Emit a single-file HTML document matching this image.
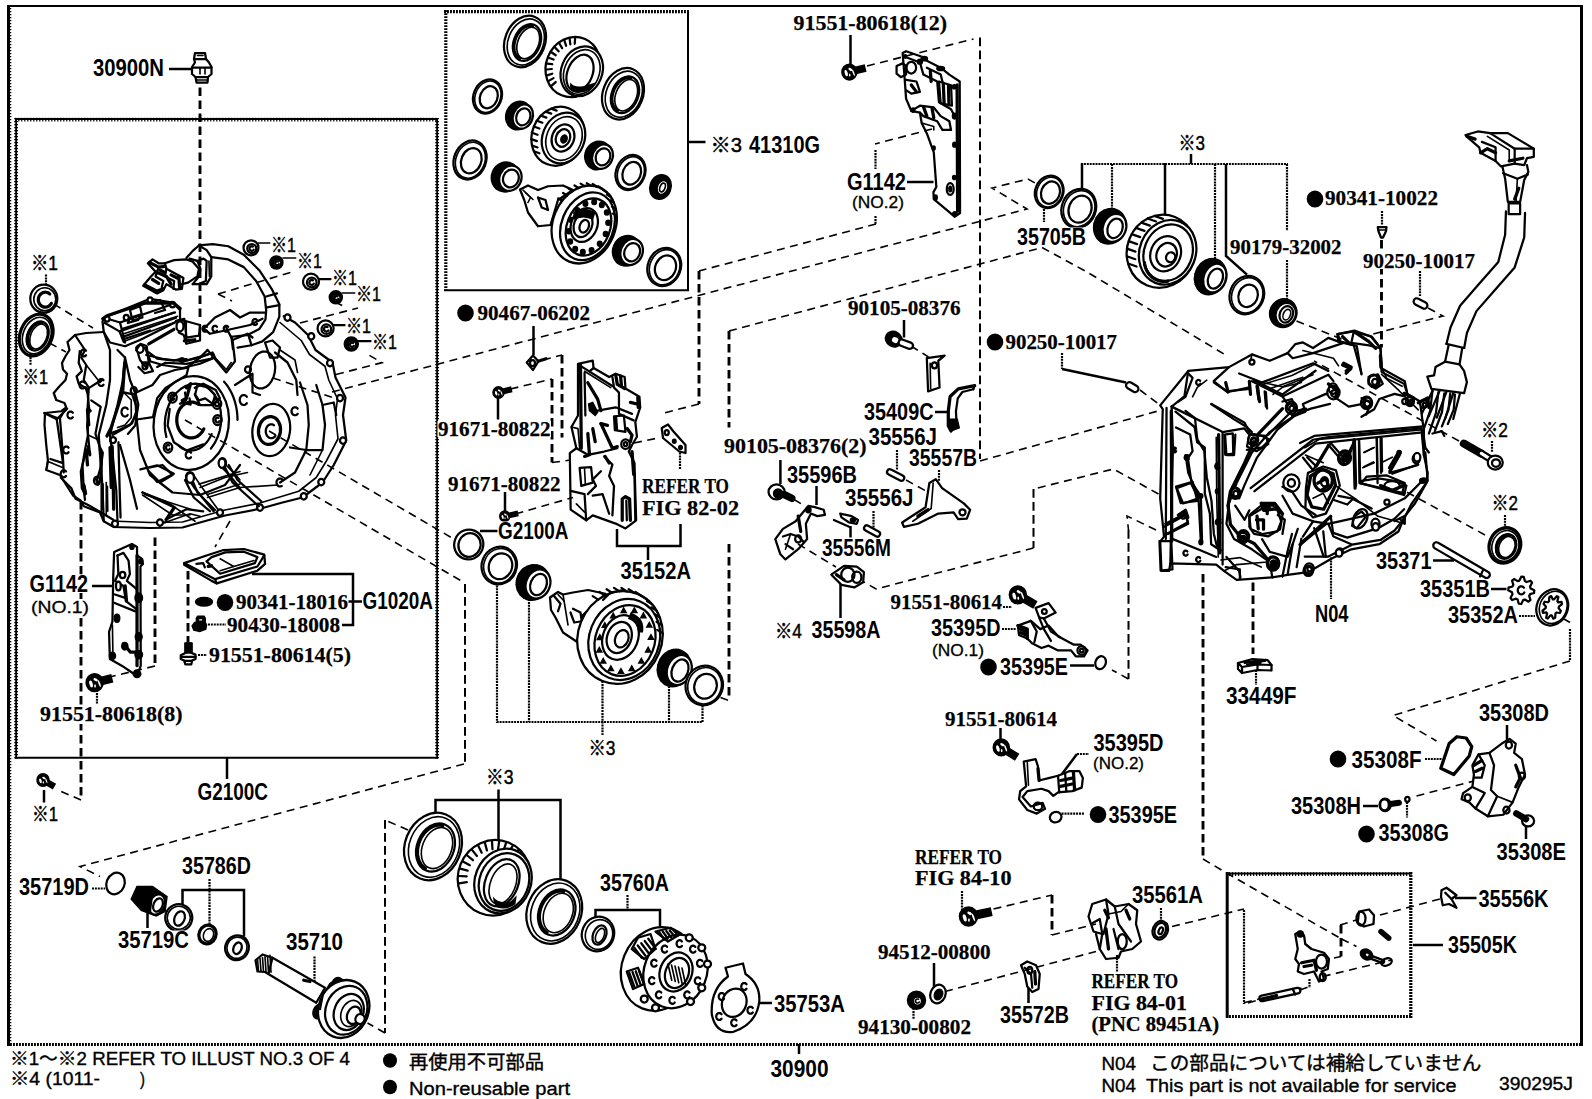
<!DOCTYPE html>
<html lang="ja"><head><meta charset="utf-8"><title>30900 Transaxle Assy</title>
<style>
html,body{margin:0;padding:0;background:#fff;}
body{width:1592px;height:1099px;overflow:hidden;}
svg{display:block;}
.l{fill:none;stroke:#000;stroke-width:9;stroke-linejoin:round;stroke-linecap:round;}
.t{fill:none;stroke:#000;stroke-width:6.5;stroke-linejoin:round;stroke-linecap:round;}
.k{fill:none;stroke:#000;stroke-width:13;stroke-linejoin:round;stroke-linecap:round;}
.d{fill:none;stroke:#000;stroke-width:8;stroke-dasharray:30 18;}
.dd{fill:none;stroke:#000;stroke-width:6;stroke-dasharray:24 14;}
.f{fill:#000;stroke:none;}
.wf{fill:#fff;stroke:none;}
.fk{fill:#000;stroke:#000;stroke-width:6;}
.w{fill:#fff;stroke:#000;stroke-width:9;stroke-linejoin:round;}
.pn{font-family:"Liberation Sans",sans-serif;font-weight:bold;font-size:24.5px;fill:#000;}
.no{font-family:"Liberation Serif",serif;font-weight:bold;font-size:21.5px;fill:#000;stroke:#000;stroke-width:.25px;}
.rf{font-family:"Liberation Serif",serif;font-weight:bold;font-size:20px;fill:#000;stroke:#000;stroke-width:.25px;}
.sm{font-family:"Liberation Sans",sans-serif;font-size:16px;fill:#000;stroke:#000;stroke-width:.3px;}
.st{font-family:"Liberation Sans","Noto Sans CJK JP",sans-serif;font-size:21px;fill:#000;stroke:#000;stroke-width:.45px;}
.ft{font-family:"Liberation Sans","Noto Sans CJK JP",sans-serif;font-size:18px;fill:#000;stroke:#000;stroke-width:.35px;}
.ftj{font-family:"Liberation Sans","Noto Sans CJK JP",sans-serif;font-size:19px;fill:#000;stroke:#000;stroke-width:.4px;}
.fr{fill:none;stroke:#000;stroke-width:2.2;}
.frd{fill:none;stroke:#000;stroke-width:1.4;stroke-dasharray:1 1;}
.bx{fill:none;stroke:#000;stroke-width:1.8;}
.b2{fill:none;stroke:#000;stroke-width:2;}
.b18{fill:none;stroke:#000;stroke-width:1.8;}
.b3{fill:none;stroke:#000;stroke-width:3;}
.bd3{fill:none;stroke:#000;stroke-width:3.2;stroke-dasharray:1.9 1.1;}
.bt{fill:none;stroke:#000;stroke-width:3.8;stroke-dasharray:1.2 1.8;}
.gs{fill:none;stroke:#000;stroke-width:2.5;}
.gt{fill:none;stroke:#000;stroke-width:2.2;stroke-dasharray:2 0.9;}
.gd{fill:none;stroke:#000;stroke-width:1.6;stroke-dasharray:8 5.5;}
.gv{fill:none;stroke:#000;stroke-width:2;stroke-dasharray:8.7 4.3;}
.gD{fill:none;stroke:#000;stroke-width:2.9;stroke-dasharray:8.5 4.5;}
</style></head><body>
<svg width="1592" height="1099" viewBox="0 0 1592 1099">
<rect x="0" y="0" width="1592" height="1099" fill="#fff"/>
<!-- 00_frame.svg -->
<g id="frame">
<path class="b2" d="M7.0 6.0 H1583.0"/>
<path class="bt" d="M9.4 5.0 V1046.0"/>
<path class="b3" d="M8.5 5.0 V1046.0"/>
<path class="b3" d="M1581.5 5.0 V1046.0"/>
<path class="bd3" d="M7.0 1044.5 H1583.0"/>
<path class="bt" d="M15.2 119.6 H438.0"/>
<path class="b2" d="M15.2 119.0 H438.0"/>
<path class="bt" d="M16.1 118.0 V758.8"/>
<path class="b18" d="M16.1 118.0 V758.8"/>
<path class="bt" d="M437.1 118.0 V758.8"/>
<path class="b18" d="M437.1 118.0 V758.8"/>
<path class="b2" d="M15.2 757.8 H438.0"/>
<path class="bd3" d="M444.0 11.7 H689.0"/>
<path class="bd3" d="M445.8 10.2 V291.0"/>
<path class="b2" d="M688.0 10.2 V291.0"/>
<path class="b2" d="M444.0 290.2 H689.0"/>
<path class="b3" d="M1227.2 872.0 V1018.0"/>
<path class="bt" d="M1226.0 874.2 H1412.0"/>
<path class="b2" d="M1226.0 873.6 H1412.0"/>
<path class="bd3" d="M1410.8 872.0 V1018.0"/>
<path class="bd3" d="M1226.0 1016.5 H1412.0"/>
<path class="gs" d="M169.0 69.0 L192.0 69.0"/>
<path class="gs" d="M688.0 142.0 L705.5 142.0"/>
<path class="gs" d="M850.5 35.0 L850.5 64.0"/>
<path class="gs" d="M907.0 182.0 L933.5 182.0"/>
<path class="gs" d="M533.5 326.0 L533.5 355.0"/>
<path class="gs" d="M498.0 395.0 L498.0 419.5"/>
<path class="gs" d="M505.0 492.0 L505.0 512.5"/>
<path class="gs" d="M480.0 531.0 L498.0 531.0"/>
<path class="gs" d="M617.0 529.0 L617.0 546.0 L680.5 546.0 L680.5 524.0"/>
<path class="gs" d="M648.0 546.0 L648.0 560.0"/>
<path class="gs" d="M904.0 320.0 L904.0 337.5"/>
<path class="gs" d="M935.0 412.0 L948.0 412.0"/>
<path class="gs" d="M816.5 486.0 L816.5 505.0"/>
<path class="gs" d="M850.5 526.0 L850.5 537.5"/>
<path class="gs" d="M92.0 586.0 L113.0 586.0"/>
<path class="gs" d="M252.0 574.0 L353.0 574.0 L353.0 625.0 L342.0 625.0"/>
<path class="gs" d="M348.0 601.5 L362.0 601.5"/>
<path class="gs" d="M227.0 757.5 L227.0 779.0"/>
<path class="gs" d="M44.0 790.0 L44.0 802.5"/>
<path class="gs" d="M435.5 816.0 L435.5 800.0 L560.5 800.0 L560.5 879.0"/>
<path class="gs" d="M498.5 789.5 L498.5 841.0"/>
<path class="gs" d="M1070.0 665.5 L1094.0 665.5"/>
<path class="gs" d="M1000.5 728.0 L1000.5 740.0"/>
<path class="gs" d="M840.5 584.0 L840.5 618.0"/>
<path class="gs" d="M780.4 460.0 L780.4 484.0"/>
<path class="gs" d="M1433.0 560.5 L1454.0 560.5"/>
<path class="gs" d="M1491.0 589.0 L1506.5 589.0"/>
<path class="gs" d="M1507.0 725.0 L1507.0 741.0"/>
<path class="gs" d="M1363.0 806.0 L1378.0 806.0"/>
<path class="gs" d="M1526.0 826.5 L1526.0 839.0"/>
<path class="gs" d="M1413.0 945.0 L1443.0 945.0"/>
<path class="gs" d="M1455.0 898.0 L1476.5 898.0"/>
<path class="gs" d="M182.5 905.0 L182.5 890.0 L244.0 890.0 L244.0 936.5"/>
<path class="gs" d="M147.5 909.0 L147.5 928.0"/>
<path class="gs" d="M595.5 918.0 L595.5 910.0 L660.0 910.0 L660.0 926.5"/>
<path class="gs" d="M759.0 1003.0 L772.0 1003.0"/>
<path class="gs" d="M799.0 1044.0 L799.0 1054.0"/>
<path class="gs" d="M934.0 963.0 L934.0 986.5"/>
<path class="gs" d="M1028.5 988.0 L1028.5 1003.0"/>
<path class="gs" d="M1191.0 154.0 L1191.0 164.0"/>
<path class="gs" d="M1226.0 164.0 L1226.0 256.0 L1247.0 274.6"/>
<path class="gs" d="M1082.0 163.0 L1082.0 190.0"/>
<path class="gs" d="M1165.0 163.0 L1165.0 215.0"/>
<path class="gs" d="M1062.0 369.0 L1126.0 382.5"/>
<path class="gs" d="M1077.0 754.0 L1061.6 774.5"/>
<path class="gt" d="M1044.0 209.0 L1044.0 222.0"/>
<path class="gt" d="M1081.0 164.0 L1288.0 164.0"/>
<path class="gt" d="M1112.0 164.0 L1112.0 209.0"/>
<path class="gt" d="M1215.0 164.0 L1215.0 262.0"/>
<path class="gt" d="M1287.0 164.0 L1287.0 231.0"/>
<path class="gt" d="M1287.0 260.0 L1287.0 299.0"/>
<path class="gt" d="M1382.0 211.0 L1382.0 225.0"/>
<path class="gt" d="M1420.0 271.0 L1420.0 296.0"/>
<path class="gt" d="M1062.0 353.0 L1062.0 369.0"/>
<path class="gt" d="M875.5 150.0 L875.5 169.0"/>
<path class="gt" d="M875.5 216.0 L875.5 224.0"/>
<path class="gt" d="M680.0 452.5 L680.0 469.0"/>
<path class="gt" d="M939.0 470.0 L939.0 481.0"/>
<path class="gt" d="M897.0 450.0 L897.0 470.0"/>
<path class="gt" d="M873.5 511.0 L873.5 527.5"/>
<path class="gt" d="M97.0 690.0 L97.0 704.0"/>
<path class="gt" d="M208.0 624.5 L226.0 624.5"/>
<path class="gt" d="M198.0 655.0 L207.0 655.0"/>
<path class="gt" d="M497.0 582.5 L497.0 722.0 L702.5 722.0 L702.5 705.0"/>
<path class="gt" d="M529.0 599.0 L529.0 722.0"/>
<path class="gt" d="M602.5 681.0 L602.5 735.0"/>
<path class="gt" d="M669.0 686.0 L669.0 722.0"/>
<path class="gt" d="M1331.0 557.5 L1331.0 599.0"/>
<path class="gt" d="M1256.0 670.0 L1256.0 685.0"/>
<path class="gt" d="M1519.0 616.0 L1535.0 616.0"/>
<path class="gt" d="M1425.0 759.0 L1441.5 759.0"/>
<path class="gt" d="M1407.0 802.0 L1407.0 817.5"/>
<path class="gt" d="M92.0 888.5 L105.0 888.5"/>
<path class="gt" d="M209.5 879.0 L209.5 925.0"/>
<path class="gt" d="M314.5 956.5 L314.5 984.0"/>
<path class="gt" d="M627.5 895.0 L627.5 910.0"/>
<path class="gt" d="M962.0 891.0 L962.0 910.0"/>
<path class="gt" d="M913.5 1008.0 L913.5 1019.0"/>
<path class="gt" d="M1161.0 908.0 L1161.0 921.5"/>
<path class="gt" d="M1117.0 955.0 L1117.0 971.5"/>
<path class="gt" d="M1244.0 910.0 L1244.0 1004.0"/>
<path class="gt" d="M1309.5 979.0 L1309.5 988.0"/>
<path class="gt" d="M46.0 274.5 L46.0 286.0"/>
<path class="gt" d="M30.5 354.0 L30.5 365.0"/>
<path class="gt" d="M1505.0 515.0 L1505.0 527.5"/>
<path class="gt" d="M1492.0 441.0 L1492.0 452.0"/>
<path class="gt" d="M1003.0 607.0 L1012.0 607.0"/>
<path class="gt" d="M1002.0 629.0 L1016.0 629.0"/>
<path class="gt" d="M1077.0 754.0 L1089.0 754.0"/>
<path class="gt" d="M1061.6 813.6 L1084.0 813.6"/>
<path class="gt" d="M1570.0 629.0 L1570.0 661.0"/>
<path class="gd" d="M332.0 392.0 L1027.0 209.0 L992.0 188.0 L1028.0 179.0 L1035.0 183.0"/>
<path class="gd" d="M269.0 431.0 L455.5 540.0"/>
<path class="gd" d="M185.0 420.0 L464.0 582.5"/>
<path class="gv" d="M465.0 584.0 L465.0 764.0"/>
<path class="gd" d="M464.0 764.0 L80.0 866.5 L100.0 876.5"/>
<path class="gd" d="M720.5 697.5 L730.5 701.0"/>
<path class="gd" d="M729.0 331.0 L1042.0 247.5 L1087.0 272.0 L1224.0 354.0"/>
<path class="gd" d="M932.0 129.0 L875.0 144.0"/>
<path class="gd" d="M876.0 224.0 L699.0 271.0"/>
<path class="gd" d="M699.0 404.0 L660.0 414.0"/>
<path class="gd" d="M867.0 66.0 L973.5 39.0"/>
<path class="gv" d="M980.0 37.5 L980.0 459.0"/>
<path class="gd" d="M980.0 461.0 L1158.0 411.0"/>
<path class="gd" d="M543.0 360.0 L562.0 355.0"/>
<path class="gd" d="M510.5 389.0 L552.0 379.0"/>
<path class="gd" d="M552.0 462.5 L570.5 460.0"/>
<path class="gd" d="M515.5 514.0 L573.0 497.5"/>
<path class="gd" d="M634.0 443.0 L660.5 437.5"/>
<path class="gd" d="M911.0 346.0 L928.5 357.0"/>
<path class="gd" d="M906.0 480.0 L926.0 491.0"/>
<path class="gd" d="M794.0 499.5 L805.0 506.0"/>
<path class="gd" d="M798.0 544.0 L836.0 567.0"/>
<path class="gd" d="M1158.5 494.0 L1113.5 469.0 L1033.5 489.0"/>
<path class="gv" d="M1033.5 489.0 L1033.5 548.0"/>
<path class="gd" d="M1033.5 548.0 L876.0 589.0 L864.0 582.0"/>
<path class="gd" d="M1156.0 530.0 L1127.0 516.0 L1128.5 530.0"/>
<path class="gv" d="M1128.5 530.0 L1128.5 679.0"/>
<path class="gd" d="M1128.5 679.0 L1112.0 670.0"/>
<path class="gd" d="M1140.0 390.0 L1158.5 404.0"/>
<path class="gd" d="M1428.0 308.0 L1443.0 316.0 L1369.0 335.0"/>
<path class="gd" d="M1296.5 321.0 L1344.0 340.0"/>
<path class="gd" d="M1459.0 441.0 L1314.0 361.0"/>
<path class="gd" d="M1485.0 535.0 L1403.0 490.0"/>
<path class="gd" d="M1564.0 619.0 L1570.0 622.5"/>
<path class="gd" d="M1570.0 661.0 L1393.0 715.5 L1436.5 741.0"/>
<path class="gd" d="M1416.5 796.0 L1474.0 781.0"/>
<path class="gd" d="M1203.0 859.0 L1226.5 873.0 L1341.5 939.0"/>
<path class="gd" d="M993.5 909.0 L1052.0 895.0"/>
<path class="gd" d="M1052.0 935.0 L1096.0 924.0"/>
<path class="gd" d="M945.0 991.5 L1096.0 951.5"/>
<path class="gd" d="M1172.0 926.5 L1244.0 909.0"/>
<path class="gd" d="M1248.0 1003.0 L1301.5 988.0"/>
<path class="gd" d="M408.0 830.0 L385.0 820.0"/>
<path class="gv" d="M385.0 820.0 L385.0 1033.0"/>
<path class="gd" d="M385.0 1033.0 L367.5 1023.0"/>
<path class="gd" d="M53.7 304.0 L93.0 328.0"/>
<path class="gd" d="M49.5 343.0 L66.0 352.0"/>
<path class="gd" d="M155.0 666.0 L107.5 677.5"/>
<path class="gd" d="M230.0 521.0 L215.0 547.0"/>
<path class="gd" d="M81.0 800.0 L60.0 791.0"/>
<path class="gd" d="M300.0 323.0 L358.0 308.0"/>
<path class="gd" d="M218.0 294.0 L292.0 272.0"/>
<path class="gd" d="M218.0 294.0 L232.0 301.0"/>
<path class="gd" d="M336.0 374.5 L382.0 362.6 L367.0 354.0"/>
<path class="gd" d="M273.0 378.0 L334.0 398.0"/>
<path class="gd" d="M335.0 302.0 L347.0 308.0"/>
<path class="gd" d="M1340.0 925.0 L1356.5 920.0"/>
<path class="gd" d="M1341.0 956.5 L1334.0 958.0"/>
<path class="gd" d="M1322.7 976.5 L1391.5 960.0"/>
<path class="gd" d="M1244.0 1002.7 L1259.0 999.0"/>
<path class="gd" d="M1300.0 990.0 L1310.0 986.5"/>
<path class="gd" d="M1380.0 915.0 L1440.0 899.0"/>
<path class="gd" d="M1341.5 939.0 L1356.5 946.5"/>
<path class="gD" d="M1341.0 925.0 L1341.0 956.5"/>
<path class="gD" d="M562.0 355.0 L562.0 437.5"/>
<path class="gD" d="M552.0 379.0 L552.0 462.5"/>
<path class="gD" d="M699.0 271.0 L699.0 404.0"/>
<path class="gD" d="M729.0 544.0 L729.0 697.0"/>
<path class="gD" d="M729.0 331.0 L729.0 427.5"/>
<path class="gD" d="M1052.0 895.0 L1052.0 935.0"/>
<path class="gD" d="M200.0 87.5 L200.0 318.0"/>
<path class="gD" d="M81.0 501.0 L81.0 800.0"/>
<path class="gD" d="M155.0 537.5 L155.0 666.0"/>
<path class="gD" d="M188.0 571.0 L188.0 642.5"/>
<path class="gD" d="M1381.5 240.0 L1381.5 347.5"/>
<path class="gD" d="M1203.0 574.0 L1203.0 859.0"/>
<path class="gD" d="M1253.0 582.5 L1253.0 654.0"/>
</g>
<!-- 20_kit.svg -->
<g transform="translate(398 0) scale(.25)">
<ellipse class="w" cx="508" cy="166" rx="80" ry="106" transform="rotate(22 508 166)"/>
<ellipse class="t" cx="511.2" cy="168" rx="70.4" ry="95.4" transform="rotate(22 511.2 168)"/>
<ellipse class="l" cx="516" cy="170" rx="52.8" ry="76.32" transform="rotate(22 516 170)"/>
<ellipse class="t" cx="520.8" cy="172" rx="41.6" ry="65.72" transform="rotate(22 520.8 172)"/>
<path class="k" d="M485.6 234 480.5 230.6 476 226.2 472.1 221 468.9 215 466.4 208.3 464.7 201 463.7 193.3 463.5 185.2 464.2 176.8 465.6 168.4 467.8 160 470.8 151.7 474.4 143.7 478.6 136.2 483.5 129.1 488.8 122.7 494.5 116.9 500.6 112 506.9 108 513.4 104.9 519.8 102.9 526.3 101.8 532.5 101.8 538.6 102.8"/>
<ellipse class="w" cx="900" cy="375" rx="80" ry="106" transform="rotate(22 900 375)"/>
<ellipse class="t" cx="903.2" cy="377" rx="70.4" ry="95.4" transform="rotate(22 903.2 377)"/>
<ellipse class="l" cx="908" cy="379" rx="52.8" ry="76.32" transform="rotate(22 908 379)"/>
<ellipse class="t" cx="912.8" cy="381" rx="41.6" ry="65.72" transform="rotate(22 912.8 381)"/>
<path class="k" d="M877.6 443 872.5 439.6 868 435.2 864.1 430 860.9 424 858.4 417.3 856.7 410 855.7 402.3 855.5 394.2 856.2 385.8 857.6 377.4 859.8 369 862.8 360.7 866.4 352.7 870.6 345.2 875.5 338.1 880.8 331.7 886.5 325.9 892.6 321 898.9 317 905.4 313.9 911.8 311.9 918.3 310.8 924.5 310.8 930.6 311.8"/>
<ellipse class="w" cx="700" cy="268" rx="108" ry="122" transform="rotate(22 700 268)"/>
<path class="l" d="M613.5 343.3 630.8 328.2"/>
<path class="l" d="M602.8 323.6 622.2 312.4"/>
<path class="l" d="M596.1 301.5 616.9 294.8"/>
<path class="l" d="M593.9 278 615.1 276"/>
<path class="l" d="M596.2 254.1 617 256.9"/>
<path class="l" d="M602.9 230.8 622.3 238.2"/>
<path class="l" d="M613.7 209 630.9 220.8"/>
<path class="l" d="M628.1 189.8 642.5 205.4"/>
<path class="l" d="M645.6 173.9 656.5 192.7"/>
<path class="l" d="M665.4 161.9 672.4 183.1"/>
<path class="l" d="M686.7 154.5 689.4 177.2"/>
<path class="l" d="M708.6 151.9 706.8 175.1"/>
<ellipse class="w" cx="735" cy="285" rx="82" ry="102" transform="rotate(22 735 285)"/>
<ellipse class="t" cx="735" cy="288" rx="70" ry="92" transform="rotate(22 735 288)"/>
<ellipse class="l" cx="728" cy="292" rx="50" ry="76" transform="rotate(22 728 292)"/>
<path class="f" d="M690 330 Q700 350 740 345 L790 330 Q770 372 720 372 Q680 365 690 330Z"/>
<ellipse class="w" cx="358" cy="386" rx="56" ry="70" transform="rotate(22 358 386)"/>
<ellipse class="t" cx="359.5" cy="387" rx="50.4" ry="64.4" transform="rotate(22 359.5 387)"/>
<ellipse class="l" cx="363" cy="389" rx="34.72" ry="45.57" transform="rotate(22 363 389)"/>
<ellipse class="fk" cx="482" cy="462" rx="50" ry="58" transform="rotate(22 482 462)"/>
<ellipse class="w" cx="499.5" cy="466.375" rx="39" ry="49.88" transform="rotate(22 499.5 466.375)"/>
<ellipse class="l" cx="501.25" cy="467.25" rx="27.5" ry="35.09" transform="rotate(22 501.25 467.25)"/>
<ellipse class="fk" cx="800" cy="622" rx="52" ry="58" transform="rotate(22 800 622)"/>
<ellipse class="w" cx="818.2" cy="626.55" rx="40.56" ry="49.88" transform="rotate(22 818.2 626.55)"/>
<ellipse class="l" cx="820.02" cy="627.46" rx="28.6" ry="35.09" transform="rotate(22 820.02 627.46)"/>
<ellipse class="fk" cx="430" cy="708" rx="56" ry="60" transform="rotate(22 430 708)"/>
<ellipse class="w" cx="449.6" cy="712.9" rx="43.68" ry="51.6" transform="rotate(22 449.6 712.9)"/>
<ellipse class="l" cx="451.56" cy="713.88" rx="30.8" ry="36.3" transform="rotate(22 451.56 713.88)"/>
<ellipse class="fk" cx="915" cy="1003" rx="56" ry="62" transform="rotate(22 915 1003)"/>
<ellipse class="w" cx="934.6" cy="1007.9" rx="43.68" ry="53.32" transform="rotate(22 934.6 1007.9)"/>
<ellipse class="l" cx="936.56" cy="1008.88" rx="30.8" ry="37.51" transform="rotate(22 936.56 1008.88)"/>
<ellipse class="w" cx="640" cy="545" rx="104" ry="120" transform="rotate(22 640 545)"/>
<path class="l" d="M543.6 605.2 565.6 613.2"/>
<path class="l" d="M536.1 581.8 558.1 589.8"/>
<path class="l" d="M533.6 556.7 555.6 564.7"/>
<path class="l" d="M536.1 531 558.1 539"/>
<path class="l" d="M543.6 506 565.6 514"/>
<path class="l" d="M555.6 482.9 577.6 490.9"/>
<path class="l" d="M571.6 462.7 593.6 470.7"/>
<path class="l" d="M590.9 446.4 612.9 454.4"/>
<path class="l" d="M612.5 434.7 634.5 442.7"/>
<ellipse class="w" cx="662" cy="552" rx="84" ry="104" transform="rotate(22 662 552)"/>
<ellipse class="t" cx="664" cy="554" rx="70" ry="90" transform="rotate(22 664 554)"/>
<ellipse class="l" cx="660" cy="552" rx="44" ry="56" transform="rotate(22 660 552)"/>
<ellipse class="l" cx="660" cy="552" rx="28" ry="36" transform="rotate(22 660 552)"/>
<ellipse class="fk" cx="664" cy="556" rx="12" ry="16" transform="rotate(22 664 556)"/>
<ellipse class="w" cx="930" cy="690" rx="58" ry="72" transform="rotate(22 930 690)"/>
<ellipse class="t" cx="931.5" cy="691" rx="52.2" ry="66.24" transform="rotate(22 931.5 691)"/>
<ellipse class="l" cx="935" cy="693" rx="35.96" ry="46.872" transform="rotate(22 935 693)"/>
<ellipse class="fk" cx="1050" cy="748" rx="42" ry="50" transform="rotate(22 1050 748)"/>
<ellipse class="w" cx="1058" cy="750" rx="22" ry="30" transform="rotate(22 1058 750)"/>
<ellipse class="t" cx="1058" cy="750" rx="10" ry="18" transform="rotate(22 1058 750)"/>
<ellipse class="w" cx="288" cy="640" rx="64" ry="80" transform="rotate(22 288 640)"/>
<ellipse class="t" cx="289.5" cy="641" rx="57.6" ry="73.6" transform="rotate(22 289.5 641)"/>
<ellipse class="l" cx="293" cy="643" rx="39.68" ry="52.08" transform="rotate(22 293 643)"/>
<ellipse class="w" cx="1065" cy="1068" rx="66" ry="78" transform="rotate(22 1065 1068)"/>
<ellipse class="t" cx="1066.5" cy="1069" rx="59.4" ry="71.76" transform="rotate(22 1066.5 1069)"/>
<ellipse class="l" cx="1070" cy="1071" rx="40.92" ry="50.778" transform="rotate(22 1070 1071)"/>
<path class="w" d="M488 758 L520 742 L560 760 L600 745 L660 742 L700 760 L640 800 L610 900 L560 905 L520 850 L505 800 Z"/>
<path class="t" d="M500 760 530 790 520 810"/>
<path class="t" d="M510 770 540 798"/>
<path class="l" d="M560 790 575 830 600 840 590 800 560 790"/>
<ellipse class="w" cx="745" cy="898" rx="125" ry="160" transform="rotate(22 745 898)"/>
<path class="l" d="M656.6 803.3 640.6 793.3"/>
<path class="l" d="M676.2 781.8 660.2 771.8"/>
<path class="l" d="M698.3 764.4 682.3 754.4"/>
<path class="l" d="M722 751.8 706 741.8"/>
<path class="l" d="M746.5 744.4 730.5 734.4"/>
<path class="l" d="M771 742.5 755 732.5"/>
<path class="l" d="M794.6 746.1 778.6 736.1"/>
<path class="l" d="M816.4 755.2 800.4 745.2"/>
<path class="l" d="M835.7 769.3 819.7 759.3"/>
<path class="l" d="M851.7 788 835.7 778"/>
<path class="l" d="M863.9 810.7 847.9 800.7"/>
<path class="l" d="M871.9 836.4 855.9 826.4"/>
<path class="l" d="M875.3 864.4 859.3 854.4"/>
<ellipse class="l" cx="758" cy="905" rx="104" ry="140" transform="rotate(22 758 905)"/>
<ellipse class="l" cx="762" cy="908" rx="86" ry="118" transform="rotate(22 762 908)"/>
<ellipse class="fk" cx="830.6" cy="935.7" rx="9" ry="10"/>
<ellipse class="fk" cx="806.9" cy="974.8" rx="9" ry="10"/>
<ellipse class="fk" cx="774.3" cy="1000.7" rx="9" ry="10"/>
<ellipse class="fk" cx="739.3" cy="1008.2" rx="9" ry="10"/>
<ellipse class="fk" cx="708.8" cy="995.8" rx="9" ry="10"/>
<ellipse class="fk" cx="688.8" cy="966.1" rx="9" ry="10"/>
<ellipse class="fk" cx="683.3" cy="924.9" rx="9" ry="10"/>
<ellipse class="fk" cx="693.4" cy="880.3" rx="9" ry="10"/>
<ellipse class="fk" cx="717.1" cy="841.2" rx="9" ry="10"/>
<ellipse class="fk" cx="749.7" cy="815.3" rx="9" ry="10"/>
<ellipse class="fk" cx="784.7" cy="807.8" rx="9" ry="10"/>
<ellipse class="fk" cx="815.2" cy="820.2" rx="9" ry="10"/>
<ellipse class="fk" cx="835.2" cy="849.9" rx="9" ry="10"/>
<ellipse class="fk" cx="840.7" cy="891.1" rx="9" ry="10"/>
<ellipse class="w" cx="745" cy="900" rx="52" ry="70" transform="rotate(22 745 900)"/>
<ellipse class="l" cx="740" cy="900" rx="36" ry="50" transform="rotate(22 740 900)"/>
<ellipse class="w" cx="745" cy="905" rx="18" ry="26" transform="rotate(22 745 905)"/>
<path class="f" d="M700 850 Q740 820 790 850 L780 880 Q740 860 705 880Z"/>
</g>
<!-- 21_housingL.svg -->
<g transform="translate(0 275) scale(.25)">
<path class="l" d="M415 228 345 232 300 240 270 268 278 300 262 325 248 352 252 378 268 395 262 420 238 445 215 472 225 500 258 512 265 530 245 545 180 552 178 600 185 680 192 745 185 780 240 800 262 835 292 882 322 902 335 925 400 950 415 985 455 1008 600 1012 730 1010 800 990 900 962 1040 935 1130 910 1210 890 1290 830 1335 760 1385 662 1372 560 1382 490 1342 410 1330 350 1262 300 1232 240 1180 190 1135 165"/>
<path class="t" d="M1120 190 1205 262 1238 318 1300 365 1315 420 1350 495 1342 560 1352 655 1305 745 1265 810 1195 865 1040 912 900 940 800 968 730 988 600 990 470 985"/>
<ellipse class="w" cx="1150" cy="170" rx="12" ry="13"/>
<ellipse class="w" cx="1245" cy="245" rx="12" ry="13"/>
<ellipse class="w" cx="1320" cy="352" rx="12" ry="13"/>
<ellipse class="w" cx="1360" cy="492" rx="12" ry="13"/>
<ellipse class="w" cx="1372" cy="662" rx="12" ry="13"/>
<ellipse class="w" cx="1285" cy="828" rx="12" ry="13"/>
<ellipse class="w" cx="1215" cy="885" rx="12" ry="13"/>
<ellipse class="w" cx="1040" cy="930" rx="12" ry="13"/>
<ellipse class="w" cx="880" cy="950" rx="12" ry="13"/>
<ellipse class="w" cx="640" cy="990" rx="12" ry="13"/>
<ellipse class="w" cx="460" cy="995" rx="12" ry="13"/>
<path class="l" d="M300 240 340 300 325 330 345 360 335 420 355 450 350 540 352 640 340 700 330 760 335 860 340 900"/>
<path class="t" d="M180 552 240 575 265 530"/>
<path class="l" d="M240 575 250 700 255 790"/>
<path class="t" d="M185 780 190 745 250 770"/>
<path class="t" d="M345 360 400 430 410 420"/>
<path class="t" d="M352 640 395 660 400 720"/>
<path class="k" d="M350 540 355 600"/>
<path class="k" d="M345 700 350 760"/>
<path class="k" d="M335 840 340 870"/>
<path class="l" d="M344.2 321 342.4 323 340.4 324.5 338.1 325.5 335.7 326 333.3 325.9 330.9 325.2 328.7 323.9 326.8 322.2 325.2 320 324 317.5 323.2 314.8 323 312 323.2 309.2 324 306.5 325.2 304 326.8 301.8 328.7 300.1 330.9 298.8 333.3 298.1 335.7 298 338.1 298.5 340.4 299.5 342.4 301 344.2 303"/>
<path class="l" d="M414.2 439 412.4 441 410.4 442.5 408.1 443.5 405.7 444 403.3 443.9 400.9 443.2 398.7 441.9 396.8 440.2 395.2 438 394 435.5 393.2 432.8 393 430 393.2 427.2 394 424.5 395.2 422 396.8 419.8 398.7 418.1 400.9 416.8 403.3 416.1 405.7 416 408.1 416.5 410.4 417.5 412.4 419 414.2 421"/>
<path class="l" d="M291.2 569 289.4 571 287.4 572.5 285.1 573.5 282.7 574 280.3 573.9 277.9 573.2 275.7 571.9 273.8 570.2 272.2 568 271 565.5 270.2 562.8 270 560 270.2 557.2 271 554.5 272.2 552 273.8 549.8 275.7 548.1 277.9 546.8 280.3 546.1 282.7 546 285.1 546.5 287.4 547.5 289.4 549 291.2 551"/>
<path class="l" d="M274.2 709 272.4 711 270.4 712.5 268.1 713.5 265.7 714 263.3 713.9 260.9 713.2 258.7 711.9 256.8 710.2 255.2 708 254 705.5 253.2 702.8 253 700 253.2 697.2 254 694.5 255.2 692 256.8 689.8 258.7 688.1 260.9 686.8 263.3 686.1 265.7 686 268.1 686.5 270.4 687.5 272.4 689 274.2 691"/>
<path class="l" d="M264.2 804 262.4 806 260.4 807.5 258.1 808.5 255.7 809 253.3 808.9 250.9 808.2 248.7 806.9 246.8 805.2 245.2 803 244 800.5 243.2 797.8 243 795 243.2 792.2 244 789.5 245.2 787 246.8 784.8 248.7 783.1 250.9 781.8 253.3 781.1 255.7 781 258.1 781.5 260.4 782.5 262.4 784 264.2 786"/>
<path class="l" d="M339.2 449 337.4 451 335.4 452.5 333.1 453.5 330.7 454 328.3 453.9 325.9 453.2 323.7 451.9 321.8 450.2 320.2 448 319 445.5 318.2 442.8 318 440 318.2 437.2 319 434.5 320.2 432 321.8 429.8 323.7 428.1 325.9 426.8 328.3 426.1 330.7 426 333.1 426.5 335.4 427.5 337.4 429 339.2 431"/>
<path class="l" d="M415 228 440 300 440 420 425 520 395 640 400 720 410 850 415 985"/>
<path class="l" d="M470 300 500 330 490 430 470 520 440 640 450 720 465 860 470 985"/>
<path class="l" d="M500 330 520 420 540 470 545 560 520 600 450 640"/>
<path class="t" d="M495 470 525 500 525 570 500 600 470 610"/>
<path class="l" d="M510.7 559.6 508.7 562.1 506.3 564.1 503.6 565.4 500.8 566 498 565.8 495.2 564.9 492.7 563.3 490.4 561.1 488.5 558.3 487.1 555.1 486.3 551.6 486 548 486.3 544.4 487.1 540.9 488.5 537.7 490.4 534.9 492.7 532.7 495.2 531.1 498 530.2 500.8 530 503.6 530.6 506.3 531.9 508.7 533.9 510.7 536.4"/>
<path class="l" d="M480 680 520 820 548 935"/>
<path class="k" d="M440 690 445 850"/>
<path class="t" d="M405 800 405 950"/>
<path class="t" d="M425 830 425 960"/>
<ellipse class="l" cx="388" cy="822" rx="12" ry="16"/>
<ellipse class="l" cx="452" cy="660" rx="12" ry="12"/>
<ellipse class="l" cx="535" cy="462" rx="12" ry="14"/>
<path class="l" d="M545 560 560 700 600 800 690 870 800 880 900 840 960 760"/>
<path class="l" d="M545 470 610 440 640 400 700 380 745 372 800 330 830 300"/>
<path class="l" d="M600 770 650 760 690 800 640 830 600 790"/>
<path class="l" d="M570 870 660 905 700 930 660 990"/>
<path class="t" d="M570 880 690 960 760 960"/>
<path class="t" d="M700 930 780 985"/>
<ellipse class="l" cx="765" cy="592" rx="150" ry="188" transform="rotate(8 765 592)"/>
<path class="l" d="M665.4 647.8 660.4 621.8 659.1 594.6 661.6 567.1 667.7 540.3 677.2 515 689.8 492 705.2 472.1 722.7 456 741.9 444.1 762.1 436.9 782.6 434.7 802.7 437.4 821.9 445 839.4 457.3 854.6 473.8 867.2 494 876.6 517.3 882.6 542.8 884.9 569.7 883.5 597.2 878.4 624.3 869.8 650.1 858 673.9 843.4 694.7"/>
<path class="k" d="M815.2 616 808.6 627.5 800.3 637.1 790.7 644.6 780 649.5 768.8 651.8 757.4 651.4 746.4 648.2 736 642.4 726.8 634.1 719 623.8 713 611.8 709 598.6 707.1 584.7 707.5 570.6 710.1 556.9 714.8 544 721.4 532.5 729.7 522.9 739.3 515.4 750 510.5 761.2 508.2 772.6 508.6 783.6 511.8 794 517.6"/>
<path class="l" d="M846.3 636.5 842.8 644 838.9 651.2 834.7 658.1 830.1 664.6 825.2 670.7 820 676.3 814.6 681.4 808.9 686 803 690.1 796.9 693.7 790.7 696.6 784.4 699 778 700.8 771.5 701.9 765.1 702.5 758.7 702.4 752.3 701.7 746 700.3 739.9 698.4 733.9 695.9 728.1 692.8 722.6 689.1 717.2 684.8 712.2 680.1"/>
<path class="l" d="M740 470 745 500 720 515"/>
<path class="l" d="M790 440 830 450 860 480 850 520 800 520 780 480 790 440"/>
<ellipse class="l" cx="690" cy="490" rx="17" ry="20"/>
<path class="l" d="M696.9 495 696 496.6 694.9 497.9 693.5 499 692.1 499.7 690.5 500 689 499.9 687.4 499.5 686 498.7 684.7 497.5 683.7 496.1 682.8 494.4 682.3 492.6 682 490.7 682.1 488.7 682.4 486.8 683.1 485 684 483.4 685.1 482.1 686.5 481 687.9 480.3 689.5 480 691 480.1 692.6 480.5 694 481.3"/>
<ellipse class="l" cx="868" cy="515" rx="17" ry="20"/>
<path class="l" d="M874.9 520 874 521.6 872.9 522.9 871.5 524 870.1 524.7 868.5 525 867 524.9 865.4 524.5 864 523.7 862.7 522.5 861.7 521.1 860.8 519.4 860.3 517.6 860 515.7 860.1 513.7 860.4 511.8 861.1 510 862 508.4 863.1 507.1 864.5 506 865.9 505.3 867.5 505 869 505.1 870.6 505.5 872 506.3"/>
<ellipse class="l" cx="672" cy="690" rx="17" ry="20"/>
<path class="l" d="M678.9 695 678 696.6 676.9 697.9 675.5 699 674.1 699.7 672.5 700 671 699.9 669.4 699.5 668 698.7 666.7 697.5 665.7 696.1 664.8 694.4 664.3 692.6 664 690.7 664.1 688.7 664.4 686.8 665.1 685 666 683.4 667.1 682.1 668.5 681 669.9 680.3 671.5 680 673 680.1 674.6 680.5 676 681.3"/>
<ellipse class="l" cx="870" cy="580" rx="17" ry="20"/>
<path class="l" d="M876.9 585 876 586.6 874.9 587.9 873.5 589 872.1 589.7 870.5 590 869 589.9 867.4 589.5 866 588.7 864.7 587.5 863.7 586.1 862.8 584.4 862.3 582.6 862 580.7 862.1 578.7 862.4 576.8 863.1 575 864 573.4 865.1 572.1 866.5 571 867.9 570.3 869.5 570 871 570.1 872.6 570.5 874 571.3"/>
<path class="l" d="M764.2 729 762.4 731 760.4 732.5 758.1 733.5 755.7 734 753.3 733.9 750.9 733.2 748.7 731.9 746.8 730.2 745.2 728 744 725.5 743.2 722.8 743 720 743.2 717.2 744 714.5 745.2 712 746.8 709.8 748.7 708.1 750.9 706.8 753.3 706.1 755.7 706 758.1 706.5 760.4 707.5 762.4 709 764.2 711"/>
<ellipse class="l" cx="1085" cy="620" rx="75" ry="105" transform="rotate(8 1085 620)"/>
<ellipse class="k" cx="1078" cy="622" rx="44" ry="56" transform="rotate(8 1078 622)"/>
<path class="l" d="M1101.9 643 1098.9 646.7 1095.4 649.6 1091.6 651.7 1087.6 652.8 1083.4 652.9 1079.3 652 1075.4 650.2 1071.9 647.5 1068.8 643.9 1066.3 639.7 1064.4 635 1063.3 629.9 1063 624.6 1063.5 619.3 1064.7 614.3 1066.6 609.6 1069.2 605.5 1072.4 602.1 1076 599.5 1079.9 597.8 1084 597 1088.2 597.3 1092.2 598.6 1096 600.8"/>
<path class="l" d="M1190.7 555.3 1188.7 557.6 1186.3 559.3 1183.6 560.5 1180.8 561 1178 560.8 1175.2 560 1172.7 558.6 1170.4 556.6 1168.5 554.2 1167.1 551.3 1166.3 548.2 1166 545 1166.3 541.8 1167.1 538.7 1168.5 535.8 1170.4 533.4 1172.7 531.4 1175.2 530 1178 529.2 1180.8 529 1183.6 529.5 1186.3 530.7 1188.7 532.4 1190.7 534.7"/>
<path class="l" d="M987.3 512.9 984.9 515.7 982.2 517.9 979.1 519.3 975.9 520 972.7 519.8 969.5 518.8 966.6 517 964 514.5 961.9 511.5 960.3 507.9 959.3 504 959 500 959.3 496 960.3 492.1 961.9 488.5 964 485.5 966.6 483 969.5 481.2 972.7 480.2 975.9 480 979.1 480.7 982.2 482.1 984.9 484.3 987.3 487.1"/>
<path class="l" d="M896.4 426.8 900.5 431.6 904.5 436.5 908.4 441.7 912.1 447 915.6 452.6 919 458.2 922.2 464.1 925.3 470.1 928.2 476.2 931 482.5 933.6 488.9 935.9 495.5 938.2 502.1 940.2 508.9 942 515.7 943.7 522.6 945.2 529.6 946.4 536.7 947.5 543.8 948.4 551 949.1 558.2 949.6 565.5 949.9 572.7 950 580"/>
<path class="l" d="M1060 270 1090 262 1120 290 1110 330 1080 330 1060 270"/>
<path class="l" d="M1099.2 388.7 1094.2 407.5 1086.1 424.4 1075.6 438.4 1063.3 448.3 1050.2 453.6 1037 453.9 1024.7 449.1 1014.1 439.6 1006 426.1 1000.8 409.4 999.1 390.7 1000.8 371.3 1005.8 352.5 1013.9 335.6 1024.4 321.6 1036.7 311.7 1049.8 306.4 1063 306.1 1075.3 310.9 1085.9 320.4 1094 333.9 1099.2 350.6 1100.9 369.3 1099.2 388.7"/>
<path class="l" d="M1100 310 1150 350 1185 420 1190 480"/>
<path class="t" d="M1120 300 1180 340 1190 390"/>
<path class="l" d="M940 440 1010 395 1010 470 1040 480"/>
<ellipse class="l" cx="992" cy="378" rx="12" ry="13"/>
<path class="l" d="M1200 430 1230 520 1235 600 1225 700"/>
<path class="l" d="M1265 440 1290 520 1300 600 1290 700 1225 700 1160 690"/>
<path class="l" d="M1290 520 1335 510 1345 560"/>
<path class="l" d="M1225 700 1180 790 1120 830"/>
<path class="t" d="M1290 700 1240 800"/>
<path class="l" d="M1127 843.9 1124.6 845.1 1122 845.8 1119.4 846 1116.8 845.6 1114.3 844.6 1112 843.1 1110 841.1 1108.3 838.8 1107.1 836.1 1106.3 833.2 1106 830.2 1106.2 827.2 1106.9 824.3 1108.1 821.6 1109.7 819.2 1111.6 817.2 1113.9 815.6 1116.4 814.5 1119 814 1121.6 814.1 1124.2 814.7 1126.6 815.9 1128.8 817.6 1130.7 819.7"/>
<path class="l" d="M760 800 790 870 860 940"/>
<path class="l" d="M740 820 775 890 840 945"/>
<path class="l" d="M890 750 930 830 1035 925"/>
<path class="l" d="M915 760 950 820 1045 905"/>
<ellipse class="w" cx="760" cy="808" rx="16" ry="20"/>
<ellipse class="w" cx="890" cy="752" rx="14" ry="20"/>
<path class="t" d="M800 850 900 810 990 790"/>
<path class="t" d="M830 890 960 850 1110 840"/>
<path class="t" d="M660 990 760 955 800 965"/>
<path class="l" d="M410 185 430 165 600 95 690 110 720 140 720 180 560 260 500 285 440 270 415 228 410 185"/>
<path class="l" d="M430 175 480 190 680 120"/>
<path class="l" d="M480 190 500 270"/>
<path class="l" d="M490 215 700 150"/>
<path class="t" d="M495 235 710 165"/>
<path class="l" d="M500 255 600 222"/>
<path class="l" d="M520 140 560 125 570 170 530 182 520 140"/>
<path class="l" d="M600 110 640 100 660 140 620 152"/>
<ellipse class="w" cx="428" cy="175" rx="10" ry="11"/>
<ellipse class="w" cx="505" cy="170" rx="10" ry="11"/>
<ellipse class="w" cx="600" cy="100" rx="10" ry="11"/>
<ellipse class="w" cx="690" cy="118" rx="10" ry="11"/>
<path class="l" d="M545 290 560 340 585 370 600 340 580 290"/>
<ellipse class="w" cx="560" cy="295" rx="14" ry="16"/>
<ellipse class="l" cx="580" cy="365" rx="10" ry="12"/>
<path class="l" d="M585 320 650 335 730 345 800 330 850 310 860 330 800 355 730 372 650 360 600 345"/>
<ellipse class="l" cx="728" cy="340" rx="10" ry="7"/>
<path class="l" d="M720 180 745 185 800 200 800 262 745 275 735 240 715 230"/>
<path class="t" d="M745 185 745 275"/>
<ellipse class="l" cx="720" cy="205" rx="14" ry="20"/>
<path class="l" d="M815 215 860 170 920 140 960 170 1000 150 1060 150"/>
<path class="l" d="M830 300 905 390 940 345 930 260 990 235 1010 250"/>
<path class="t" d="M860 330 905 378 925 350"/>
<path class="l" d="M905 210 930 260"/>
<path class="l" d="M815 215 840 235 900 222 1000 200 1050 175"/>
<path class="l" d="M827.7 222.7 826.2 224.4 824.5 225.7 822.6 226.6 820.6 227 818.6 226.9 816.6 226.3 814.8 225.2 813.1 223.7 811.8 221.9 810.8 219.8 810.2 217.4 810 215 810.2 212.6 810.8 210.2 811.8 208.1 813.1 206.3 814.8 204.8 816.6 203.7 818.6 203.1 820.6 203 822.6 203.4 824.5 204.3 826.2 205.6 827.7 207.3"/>
<path class="l" d="M867.7 222.7 866.2 224.4 864.5 225.7 862.6 226.6 860.6 227 858.6 226.9 856.6 226.3 854.8 225.2 853.1 223.7 851.8 221.9 850.8 219.8 850.2 217.4 850 215 850.2 212.6 850.8 210.2 851.8 208.1 853.1 206.3 854.8 204.8 856.6 203.7 858.6 203.1 860.6 203 862.6 203.4 864.5 204.3 866.2 205.6 867.7 207.3"/>
<path class="l" d="M912.7 222.7 911.2 224.4 909.5 225.7 907.6 226.6 905.6 227 903.6 226.9 901.6 226.3 899.8 225.2 898.1 223.7 896.8 221.9 895.8 219.8 895.2 217.4 895 215 895.2 212.6 895.8 210.2 896.8 208.1 898.1 206.3 899.8 204.8 901.6 203.7 903.6 203.1 905.6 203 907.6 203.4 909.5 204.3 911.2 205.6 912.7 207.3"/>
<path class="l" d="M1027.7 195.7 1026.2 197.4 1024.5 198.7 1022.6 199.6 1020.6 200 1018.6 199.9 1016.6 199.3 1014.8 198.2 1013.1 196.7 1011.8 194.9 1010.8 192.8 1010.2 190.4 1010 188 1010.2 185.6 1010.8 183.2 1011.8 181.1 1013.1 179.3 1014.8 177.8 1016.6 176.7 1018.6 176.1 1020.6 176 1022.6 176.4 1024.5 177.3 1026.2 178.6 1027.7 180.3"/>
</g>
<!-- 21b_housingL2.svg -->
<g transform="scale(.25)">
<path class="l" d="M319 1405 314.8 1451 327.4 1484.5 306.4 1505.4 314.8 1534.7 348.3 1555.6 356.7 1635.1 348.3 1702.1 356.7 1785.8 335.7 1836 323.2 1886.2 327.4 1953.1 339.9 1978.2"/>
<path class="l" d="M356.7 1551.5 402.7 1522.2"/>
<path class="l" d="M365 1601.7 402.7 1626.8 394.3 1668.6 381.8 1735.6 398.5 1785.8 411 1810.9 402.7 1869.5 390.1 1911.3"/>
<path class="k" d="M498.9 1451 490.5 1568.2 444.5 1710.5 427.8 1743.9"/>
<path class="l" d="M490.5 1568.2 528.2 1576.6 549.1 1635.1 528.2 1693.7 469.6 1723 436.2 1735.6"/>
<path class="l" d="M473.8 1769 478 1936.4 482.2 2070.3"/>
<path class="k" d="M448.7 1785.8 452.9 1928 454.6 2036.8"/>
<path class="l" d="M411 1936.4 411 2036.8"/>
<path class="t" d="M429.5 1944.8 431.1 2045.2"/>
<path class="k" d="M406.9 1810.9 402.7 1919.7"/>
<path class="l" d="M243.7 1911.3 285.5 1953.1 302.3 1995 352.5 2020.1 411 2053.6 452.9 2078.7"/>
<path class="l" d="M226.9 1677 252.1 1852.7 201.8 1836"/>
<path class="l" d="M176.7 1651.9 226.9 1677 268.8 1635.1"/>
<path class="k" d="M352.5 1635.1 360.8 1643.5"/>
<path class="k" d="M354.1 1785.8 359.2 1819.2"/>
<path class="k" d="M335.7 1944.8 342.4 1974.1"/>
<path class="k" d="M344.1 1551.5 350.8 1568.2"/>
<path class="k" d="M384.3 1911.3 392.6 1936.4"/>
<path class="k" d="M745.8 1551.5 762.5 1534.7 745.8 1593.3 729 1601.7"/>
<path class="l" d="M779.2 1551.5 812.7 1534.7 862.9 1559.8 879.7 1593.3 854.6 1618.4 821.1 1593.3 796 1601.7 779.2 1576.6"/>
<path class="l" d="M729 1610 762.5 1618.4 758.3 1593.3"/>
<path class="l" d="M678.8 1635.1 670.5 1702.1 695.6 1769 745.8 1802.5 812.7 1777.4"/>
<path class="l" d="M536.6 1551.5 553.3 1618.4 540.8 1702.1 511.5 1735.6"/>
<path class="l" d="M553.3 1677 611.9 1668.6 628.6 1593.3 662.1 1551.5 745.8 1501.3 754.1 1467.8"/>
<path class="l" d="M628.6 1467.8 662.1 1451 745.8 1455.2 846.2 1434.3 854.6 1417.6"/>
<path class="l" d="M595.1 1409.2 628.6 1434.3 695.6 1442.7 729 1434.3 745.8 1442.7 846.2 1413.4"/>
<path class="l" d="M544.9 1400.8 561.7 1375.7 586.8 1384.1 595.1 1451 611.9 1484.5 578.4 1492.9 553.3 1467.8"/>
<path class="k" d="M570 1451 595.1 1451"/>
<path class="k" d="M737.4 1363.2 779.2 1359"/>
<path class="k" d="M729 1438.5 745.8 1438.5"/>
<path class="k" d="M411 1275.3 427.8 1262.8 578.4 1212.6 695.6 1212.6 720.7 1233.5"/>
<path class="l" d="M419.4 1292.1 478 1325.5 695.6 1250.2"/>
<path class="l" d="M478 1325.5 494.7 1367.4"/>
<path class="l" d="M511.5 1292.1 553.3 1279.5 561.7 1258.6 519.8 1271.1 511.5 1292.1"/>
<path class="l" d="M494.7 1346.4 703.9 1271.1"/>
<path class="t" d="M503.1 1363.2 712.3 1283.7"/>
<path class="k" d="M595.1 1375.7 695.6 1317.2"/>
<path class="l" d="M703.9 1283.7 737.4 1275.3 745.8 1350.6 796 1342.3 800.2 1300.4"/>
<path class="l" d="M561.7 1877.8 628.6 1861.1 695.6 1894.6 628.6 1928 595.1 1886.2"/>
<path class="l" d="M570 1969.9 695.6 2028.5 662.1 2078.7 745.8 2036.8 812.7 2045.2"/>
<path class="t" d="M578.4 1978.2 762.5 2036.8"/>
<path class="l" d="M745.8 1902.9 779.2 1953.1 854.6 2045.2"/>
<path class="t" d="M770.9 1894.6 804.4 1944.8 871.3 2036.8"/>
<path class="l" d="M879.7 1861.1 913.1 1894.6 960 1953.1"/>
<path class="t" d="M904.8 1861.1 938.2 1894.6 960 1919.7"/>
<path class="t" d="M796 1936.4 960 1886.2"/>
<path class="t" d="M829.5 1978.2 960 1936.4"/>
<ellipse class="w" cx="760.8" cy="1911.3" rx="15.1" ry="20.1"/>
<ellipse class="w" cx="888" cy="1852.7" rx="13.4" ry="18.4"/>
</g>
<!-- 21c_hose.svg -->
<g transform="scale(.25)">
<path class="l" d="M795.6 981.9 851.3 976.9 913.2 985 975.1 1019 1037 1080.9 1086.5 1155.2 1117.4 1217 1117.4 1266.6 1092.7 1328.4 1049.3 1365.6 1006 1381 950.3 1390.3"/>
<path class="l" d="M845.1 1028.3 913.2 1037.6 975.1 1068.5 1024.6 1124.2 1058.6 1186.1 1064.8 1241.8 1061.7 1278.9 1037 1316.1 987.5 1340.8 925.6 1347"/>
<path class="l" d="M1064.8 1186.1 1108.1 1173.7"/>
<path class="l" d="M1067.9 1229.4 1117.4 1220.1"/>
<path class="l" d="M993.6 1340.8 1006 1381"/>
<path class="l" d="M925.6 1347 931.8 1396.5"/>
<path class="l" d="M746.1 1031.4 770.9 1003.5 795.6 981.9 826.6 1000.5 845.1 1028.3 845.1 1105.7 826.6 1136.6 770.9 1136.6"/>
<path class="l" d="M758.5 1034.5 789.4 1043.8 814.2 1034.5 826.6 1043.8 823.5 1124.2 801.8 1133.5"/>
<path class="l" d="M789.4 1043.8 801.8 1074.7 795.6 1105.7 770.9 1136.6"/>
<path class="t" d="M835.8 1043.8 837.7 1105.7"/>
<path class="l" d="M659.5 1053.1 696.6 1040.7 746.1 1037.6 770.9 1046.9 795.6 1074.7 789.4 1105.7 752.3 1130.4 727.5 1136.6"/>
<path class="l" d="M591.4 1053.1 610 1037.6 634.7 1053.1 659.5 1053.1 665.7 1074.7 733.7 1111.8 727.5 1155.2 702.8 1158.3 665.7 1136.6 653.3 1161.4 628.5 1173.7 572.8 1142.8 603.8 1105.7 622.3 1087.1 Z"/>
<path class="k" d="M597.6 1050 634.7 1068.5 659.5 1065.4"/>
<path class="k" d="M622.3 1087.1 665.7 1105.7 684.2 1136.6"/>
<path class="k" d="M579 1139.7 628.5 1164.4 653.3 1155.2"/>
<path class="l" d="M634.7 1068.5 622.3 1105.7 653.3 1124.2 647.1 1149"/>
<path class="l" d="M665.7 1074.7 659.5 1105.7 696.6 1124.2 693.5 1155.2"/>
<path class="k" d="M715.2 1105.7 718.3 1149"/>
<path class="k" d="M610 1118 634.7 1133.5"/>
<path class="k" d="M640.9 1080.9 659.5 1090.2"/>
<path class="k" d="M684.2 1099.5 709 1111.8"/>
</g>
<!-- 22_small1.svg -->
<g transform="scale(.25)">
<ellipse class="w" cx="175.2" cy="1194.8" rx="54" ry="56"/>
<ellipse class="t" cx="179.2" cy="1196.8" rx="44" ry="46"/>
<path class="k" d="M205.4 1213.8 202.1 1218.7 197.9 1222.9 193 1226 187.7 1228 182 1228.8 176.3 1228.3 170.9 1226.7 165.8 1223.9 161.4 1220 157.8 1215.3 155.2 1209.9 153.6 1204 153.2 1197.9 154 1191.9 155.8 1186.1 158.7 1180.9 162.6 1176.4 167.2 1172.8 172.4 1170.3 177.9 1169 183.6 1168.9 189.2 1170.1 194.5 1172.4 199.2 1175.8"/>
<ellipse class="w" cx="144.8" cy="1340" rx="62" ry="84" transform="rotate(22 144.8 1340)"/>
<ellipse class="t" cx="147.2" cy="1342" rx="54.56" ry="75.6" transform="rotate(22 147.2 1342)"/>
<ellipse class="l" cx="150.8" cy="1344" rx="40.92" ry="60.48" transform="rotate(22 150.8 1344)"/>
<ellipse class="t" cx="154.4" cy="1346" rx="32.24" ry="52.08" transform="rotate(22 154.4 1346)"/>
<path class="k" d="M126.7 1394.7 122.8 1392.1 119.4 1388.6 116.4 1384.5 113.9 1379.8 112 1374.5 110.7 1368.8 110 1362.7 109.9 1356.3 110.5 1349.7 111.6 1343 113.4 1336.4 115.7 1329.8 118.6 1323.5 122 1317.5 125.8 1311.9 129.9 1306.8 134.4 1302.2 139.2 1298.3 144.1 1295.1 149.1 1292.6 154.2 1290.9 159.2 1290.1 164.1 1290 168.7 1290.8"/>
<ellipse class="l" cx="144.8" cy="1340" rx="66" ry="88" transform="rotate(22 144.8 1340)"/>
<ellipse class="w" cx="1004" cy="991.2" rx="30" ry="30"/>
<ellipse class="w" cx="1007" cy="994.2" rx="18" ry="18"/>
<path class="l" d="M1014.8 998.7 1013.8 1000.1 1012.5 1001.3 1011 1002.3 1009.3 1002.9 1007.6 1003.2 1005.8 1003.1 1004.1 1002.7 1002.5 1002 1001.1 1001 999.9 999.7 998.9 998.2 998.3 996.5 998 994.8 998.1 993 998.5 991.3 999.2 989.7 1000.2 988.3 1001.5 987.1 1003 986.1 1004.7 985.5 1006.4 985.2 1008.2 985.3 1009.9 985.7 1011.5 986.4"/>
<ellipse class="fk" cx="1105.6" cy="1050" rx="26" ry="26"/>
<ellipse class="w" cx="1108.6" cy="1053" rx="15.6" ry="15.6"/>
<path class="l" d="M1115.4 1056.9 1114.5 1058.1 1113.3 1059.2 1112 1060 1110.6 1060.5 1109.1 1060.8 1107.6 1060.7 1106.1 1060.4 1104.7 1059.8 1103.5 1058.9 1102.4 1057.7 1101.6 1056.4 1101.1 1055 1100.8 1053.5 1100.9 1052 1101.2 1050.5 1101.8 1049.1 1102.7 1047.9 1103.9 1046.8 1105.2 1046 1106.6 1045.5 1108.1 1045.2 1109.6 1045.3 1111.1 1045.6 1112.5 1046.2"/>
<ellipse class="w" cx="1244" cy="1126.8" rx="32" ry="32"/>
<ellipse class="w" cx="1247" cy="1129.8" rx="19.2" ry="19.2"/>
<path class="l" d="M1255.3 1134.6 1254.2 1136.1 1252.8 1137.4 1251.2 1138.4 1249.5 1139.1 1247.6 1139.4 1245.7 1139.3 1243.9 1138.9 1242.2 1138.1 1240.7 1137 1239.4 1135.6 1238.4 1134 1237.7 1132.3 1237.4 1130.4 1237.5 1128.5 1237.9 1126.7 1238.7 1125 1239.8 1123.5 1241.2 1122.2 1242.8 1121.2 1244.5 1120.5 1246.4 1120.2 1248.3 1120.3 1250.1 1120.7 1251.8 1121.5"/>
<ellipse class="fk" cx="1343.2" cy="1189.2" rx="26" ry="26"/>
<ellipse class="w" cx="1346.2" cy="1192.2" rx="15.6" ry="15.6"/>
<path class="l" d="M1353 1196.1 1352.1 1197.3 1350.9 1198.4 1349.6 1199.2 1348.2 1199.7 1346.7 1200 1345.2 1199.9 1343.7 1199.6 1342.3 1199 1341.1 1198.1 1340 1196.9 1339.2 1195.6 1338.7 1194.2 1338.4 1192.7 1338.5 1191.2 1338.8 1189.7 1339.4 1188.3 1340.3 1187.1 1341.5 1186 1342.8 1185.2 1344.2 1184.7 1345.7 1184.4 1347.2 1184.5 1348.7 1184.8 1350.1 1185.4"/>
<ellipse class="w" cx="1302.4" cy="1313.6" rx="32" ry="32"/>
<ellipse class="w" cx="1305.4" cy="1316.6" rx="19.2" ry="19.2"/>
<path class="l" d="M1313.7 1321.4 1312.6 1322.9 1311.2 1324.2 1309.6 1325.2 1307.9 1325.9 1306 1326.2 1304.1 1326.1 1302.3 1325.7 1300.6 1324.9 1299.1 1323.8 1297.8 1322.4 1296.8 1320.8 1296.1 1319.1 1295.8 1317.2 1295.9 1315.3 1296.3 1313.5 1297.1 1311.8 1298.2 1310.3 1299.6 1309 1301.2 1308 1302.9 1307.3 1304.8 1307 1306.7 1307.1 1308.5 1307.5 1310.2 1308.3"/>
<ellipse class="fk" cx="1405.2" cy="1376" rx="28" ry="28"/>
<ellipse class="w" cx="1408.2" cy="1379" rx="16.8" ry="16.8"/>
<path class="l" d="M1415.5 1383.2 1414.5 1384.5 1413.3 1385.7 1411.9 1386.5 1410.4 1387.1 1408.7 1387.4 1407.1 1387.3 1405.5 1387 1404 1386.3 1402.7 1385.3 1401.5 1384.1 1400.7 1382.7 1400.1 1381.2 1399.8 1379.5 1399.9 1377.9 1400.2 1376.3 1400.9 1374.8 1401.9 1373.5 1403.1 1372.3 1404.5 1371.5 1406 1370.9 1407.7 1370.6 1409.3 1370.7 1410.9 1371 1412.4 1371.7"/>
<path class="t" d="M1032 972 1080 972"/>
<path class="t" d="M1132 1032 1184 1032"/>
<path class="l" d="M1276 1116 1324 1116"/>
<path class="t" d="M1368 1172 1420 1172"/>
<path class="l" d="M1332 1300 1380 1300"/>
<path class="l" d="M1432 1364 1484 1364"/>
<path class="w" d="M780 212 L820 212 L824 236 L836 250 L846 268 L846 296 L832 308 L830 330 L786 330 L782 308 L768 296 L768 268 L780 250 L776 236Z"/>
<path class="l" d="M778 236 824 236"/>
<path class="l" d="M770 270 846 270"/>
<path class="l" d="M782 308 832 308"/>
<path class="t" d="M786 320 830 320"/>
<path class="t" d="M800 272 800 296"/>
<path class="t" d="M820 272 820 296"/>
<path class="t" d="M790 222 812 222"/>
</g>
<!-- 23_t02.svg -->
<g transform="scale(.25)">
<path class="l" d="M456.5 2208.2 527.7 2175.6 548.1 2187.8 548.1 2221.8 568.4 2235.3 571.8 2255.7 561.7 2265.9 563 2662.7 548.1 2703.4 527.7 2689.8 487 2662.7 439.5 2635.6 436.2 2527 449.7 2486.3 453.1 2303.2 Z"/>
<path class="l" d="M470.1 2221.8 493.8 2211.6 514.2 2242.1 519.6 2296.4 507.4 2323.5 548.1 2357.4"/>
<path class="l" d="M470.1 2221.8 473.5 2296.4 459.9 2323.5 493.8 2343.9 504 2404.9 548.1 2438.8"/>
<path class="k" d="M548.1 2221.8 548.1 2662.7"/>
<path class="l" d="M459.9 2377.8 500.6 2391.4"/>
<path class="l" d="M458.5 2411.7 541.3 2445.6"/>
<path class="k" d="M500.6 2343.9 506 2404.9"/>
<path class="t" d="M449.7 2499.9 451.8 2622"/>
<path class="k" d="M493.8 2574.5 521 2608.4 548.1 2608.4"/>
<ellipse class="fk" cx="554.9" cy="2391.4" rx="14.9" ry="19"/>
<ellipse class="fk" cx="554.9" cy="2547.4" rx="13.6" ry="16.3"/>
<ellipse class="fk" cx="554.9" cy="2618.6" rx="14.9" ry="16.3"/>
<ellipse class="fk" cx="468" cy="2472.8" rx="10.9" ry="16.3"/>
<ellipse class="fk" cx="449.7" cy="2623.4" rx="12.2" ry="14.9"/>
<ellipse class="fk" cx="499.2" cy="2584.7" rx="12.2" ry="14.9"/>
<ellipse class="fk" cx="548.1" cy="2695.3" rx="14.9" ry="14.9"/>
<ellipse class="fk" cx="527.7" cy="2187.8" rx="8.1" ry="9.5"/>
<ellipse class="fk" cx="563" cy="2245.5" rx="8.1" ry="9.5"/>
<ellipse class="w" cx="490.4" cy="2299.8" rx="10.9" ry="12.2"/>
<ellipse class="w" cx="473.5" cy="2343.9" rx="9.5" ry="17.6"/>
<path class="fk" d="M408.347 2737.88 449.875 2727.52 442.966 2699.81 401.437 2710.16 Z"/>
<ellipse class="fk" cx="378.5" cy="2730.6" rx="34" ry="35.7"/>
<ellipse class="wf" cx="364.22" cy="2735.7" rx="6.8" ry="14.28" transform="rotate(-15 364.22 2735.7)"/>
<ellipse class="wf" cx="382.58" cy="2718.7" rx="9.52" ry="5.44" transform="rotate(30 382.58 2718.7)"/>
<ellipse class="wf" cx="397.2" cy="2734" rx="3.4" ry="15.3" transform="rotate(-20 397.2 2734)"/>
<ellipse class="wf" cx="380.2" cy="2744.2" rx="3.4" ry="6.8"/>
<path class="l" d="M736.7 2252.3 826.2 2221.8 894.1 2200.1 975.5 2196 1056.9 2218.4 1060.3 2255.7 1029.7 2282.8 866.9 2333.7 846.6 2323.5 736.7 2259.1 Z"/>
<path class="l" d="M736.7 2252.3 860.2 2316.7 1029.7 2265.9 1056.9 2221.8"/>
<path class="l" d="M826.2 2245.5 846.6 2228.5 900.9 2209.5 975.5 2206.8 1029.7 2228.5 1019.6 2252.3 880.5 2295 826.2 2245.5"/>
<path class="t" d="M880.5 2235.3 934.8 2265.9 880.5 2282.8"/>
<path class="l" d="M785.5 2255.7 812.7 2252.3 819.4 2269.2"/>
<path class="k" d="M833 2265.9 846.6 2263.8"/>
<path class="t" d="M934.8 2265.9 1016.2 2242.1"/>
<path class="l" d="M860.2 2316.7 866.9 2333.7"/>
<ellipse class="fk" cx="816.1" cy="2407" rx="33.9" ry="17"/>
<path class="fk" d="M785.5 2472.8 791 2464.6 816.1 2464.6 820.8 2472.8 820.8 2489.7 826.2 2499.9 822.8 2516.9 799.1 2525.7 775.4 2520.3 768.6 2503.3 778.7 2489.7 785.5 2489.7 Z"/>
<path class="w" d="M792.3 2472.8 812.7 2472.8 812.7 2486.3 792.3 2486.3 Z"/>
<path class="w" d="M741.4 2573.2 766.5 2573.2 766.5 2611.8 782.1 2618.6 782.1 2635.6 768.6 2642.4 765.2 2657.3 741.4 2657.3 736.7 2642.4 723.1 2635.6 723.1 2620.7 741.4 2611.8 Z"/>
<path class="fk" d="M741.4 2573.2 766.5 2573.2 766.5 2611.8 741.4 2611.8 Z"/>
<path class="l" d="M724.5 2627.4 782.1 2627.4"/>
<path class="l" d="M738 2643.7 766.5 2643.7"/>
<path class="fk" d="M183.588 3138.33 210.261 3153.73 220.341 3136.27 193.668 3120.87 Z"/>
<ellipse class="fk" cx="172" cy="3120" rx="24" ry="25.2"/>
<ellipse class="wf" cx="161.92" cy="3123.6" rx="4.8" ry="10.08" transform="rotate(-15 161.92 3123.6)"/>
<ellipse class="wf" cx="174.88" cy="3111.6" rx="6.72" ry="3.84" transform="rotate(30 174.88 3111.6)"/>
<ellipse class="wf" cx="185.2" cy="3122.4" rx="2.4" ry="10.8" transform="rotate(-20 185.2 3122.4)"/>
<ellipse class="wf" cx="173.2" cy="3129.6" rx="2.4" ry="4.8"/>
</g>
<!-- 24_t11.svg -->
<g transform="translate(398 275) scale(.25)">
</g><g transform="scale(.25)">
<path class="l" d="M2312 1455.7 2371 1442.6 2374.3 1472 2436.5 1508.1 2462.7 1495 2498.7 1508.1 2502 1553.9 2557.7 1586.7 2560.9 1629.2 2541.3 1688.2 2547.8 1747.1 2528.2 1779.9 2515.1 1806.1 2538 1851.9 2541.3 1976.4 2544.6 2081.2 2502 2113.9 2462.7 2094.3 2371 2061.5 2344.8 2081.2 2282.6 2038.6 2279.3 1812.6 2305.5 1793 2285.8 1707.8 2312 1662 Z"/>
<path class="k" d="M2321.9 1458.9 2325.1 1793"/>
<path class="l" d="M2338.2 1491.7 2341.5 1662"/>
<path class="l" d="M2325.1 1465.5 2449.6 1544.1"/>
<path class="t" d="M2338.2 1485.1 2443 1550.6"/>
<path class="l" d="M2374.3 1472 2357.9 1485.1"/>
<path class="l" d="M2449.6 1508.1 2456.1 1550.6 2475.8 1570.3 2475.8 1655.4 2534.7 1681.6"/>
<path class="k" d="M2462.7 1498.2 2469.2 1537.5 2498.7 1553.9"/>
<path class="k" d="M2482.3 1504.8 2485.6 1540.8"/>
<path class="k" d="M2351.3 1531 2390.6 1596.5 2403.7 1642.3"/>
<path class="fk" d="M2354.6 1616.1 2371 1609.6 2390.6 1648.9 2380.8 1662 2357.9 1642.3 Z"/>
<path class="l" d="M2390.6 1642.3 2462.7 1629.2 2528.2 1655.4"/>
<path class="k" d="M2521.6 1609.6 2547.8 1616.1"/>
<path class="k" d="M2551.1 1589.9 2553.1 1629.2"/>
<path class="l" d="M2456.1 1665.3 2495.4 1662 2502 1727.5 2459.4 1720.9 Z"/>
<path class="k" d="M2462.7 1671.8 2466 1714.4"/>
<path class="k" d="M2403.7 1694.7 2449.6 1793 2469.2 1786.4"/>
<path class="k" d="M2403.7 1694.7 2429.9 1701.3"/>
<path class="l" d="M2305.5 1793 2351.3 1819.2 2416.8 1806.1 2469.2 1793"/>
<path class="k" d="M2351.3 1734 2357.9 1819.2 2338.2 1825.7"/>
<path class="k" d="M2371 1714.4 2380.8 1766.8"/>
<path class="l" d="M2318.6 1871.6 2364.4 1868.3 2371 1930.5 2325.1 1943.6 Z"/>
<path class="t" d="M2338.2 1874.9 2341.5 1937.1"/>
<path class="l" d="M2416.8 1825.7 2449.6 1858.5 2436.5 1904.3 2456.1 1943.6 2449.6 2061.5"/>
<path class="k" d="M2420.1 1825.7 2436.5 1851.9"/>
<path class="l" d="M2403.7 1884.7 2371 1917.4 2384.1 1943.6 2351.3 1976.4"/>
<path class="k" d="M2488.9 2081.2 2488.9 1996 2502 1986.2 2518.4 1996 2521.6 2081.2"/>
<path class="l" d="M2505.3 2002.6 2507.2 2081.2"/>
<path class="k" d="M2528.2 1806.1 2534.7 1897.8"/>
<path class="l" d="M2538 1897.8 2541.3 2081.2"/>
<path class="l" d="M2282.6 1963.3 2338.2 1976.4 2344.8 2081.2"/>
<path class="t" d="M2305.5 2015.7 2338.2 2048.4"/>
<path class="l" d="M2371 1982.9 2410.3 1976.4 2436.5 2055"/>
<path class="t" d="M2285.8 1707.8 2312 1714.4 2318.6 1793"/>
<path class="k" d="M2508.5 1714.4 2528.2 1740.6 2521.6 1766.8"/>
<ellipse class="w" cx="2502" cy="1776.6" rx="17" ry="19.6"/>
<ellipse class="l" cx="2502" cy="1776.6" rx="6.5" ry="7.9"/>
</g><g transform="translate(398 275) scale(.25)">
<path class="l" d="M1055 612 1080 598 1102 626 1150 680 1150 712 1125 706 1060 652 Z"/>
<ellipse class="l" cx="1075" cy="630" rx="8" ry="10"/>
<ellipse class="fk" cx="1105" cy="665" rx="7" ry="8"/>
<ellipse class="fk" cx="1130" cy="690" rx="7" ry="8"/>
<path class="w" d="M515 350 540 322 562 345 540 380 Z"/>
<path class="k" d="M560 345 592 335"/>
<ellipse class="l" cx="538" cy="352" rx="10" ry="12"/>
<path class="fk" d="M421.313 474.708 454.691 466.386 450.22 448.455 416.842 456.777 Z"/>
<ellipse class="fk" cx="402" cy="470" rx="22" ry="23.1"/>
<ellipse class="wf" cx="392.76" cy="473.3" rx="4.4" ry="9.24" transform="rotate(-15 392.76 473.3)"/>
<ellipse class="wf" cx="404.64" cy="462.3" rx="6.16" ry="3.52" transform="rotate(30 404.64 462.3)"/>
<ellipse class="wf" cx="414.1" cy="472.2" rx="2.2" ry="9.9" transform="rotate(-20 414.1 472.2)"/>
<ellipse class="wf" cx="403.1" cy="478.8" rx="2.2" ry="4.4"/>
<path class="fk" d="M444.397 969.89 479.61 962.405 476.117 945.972 440.904 953.457 Z"/>
<ellipse class="fk" cx="427" cy="965" rx="20" ry="21"/>
<ellipse class="wf" cx="418.6" cy="968" rx="4" ry="8.4" transform="rotate(-15 418.6 968)"/>
<ellipse class="wf" cx="429.4" cy="958" rx="5.6" ry="3.2" transform="rotate(30 429.4 958)"/>
<ellipse class="wf" cx="438" cy="967" rx="2" ry="9" transform="rotate(-20 438 967)"/>
<ellipse class="wf" cx="428" cy="973" rx="2" ry="4"/>
<ellipse class="w" cx="283" cy="1078" rx="58" ry="60" transform="rotate(22 283 1078)"/>
<ellipse class="l" cx="286" cy="1080" rx="44" ry="48" transform="rotate(22 286 1080)"/>
</g>
<g transform="translate(398 550) scale(.25)">
<ellipse class="w" cx="405" cy="62" rx="70" ry="76" transform="rotate(22 405 62)"/>
<ellipse class="t" cx="406.5" cy="63" rx="63" ry="69.92" transform="rotate(22 406.5 63)"/>
<ellipse class="l" cx="410" cy="65" rx="46.2" ry="52.668" transform="rotate(22 410 65)"/>
<ellipse class="fk" cx="540" cy="130" rx="66" ry="72" transform="rotate(22 540 130)"/>
<path class="t" d="M502.8 191.4 514 173"/>
<path class="t" d="M487.6 177.5 503.3 163.3"/>
<path class="t" d="M477.4 159.1 496.2 150.4"/>
<path class="t" d="M473.2 137.9 493.2 135.5"/>
<path class="t" d="M475.4 115.9 494.8 120.1"/>
<path class="t" d="M483.7 95.3 500.6 105.7"/>
<path class="t" d="M497.4 77.9 510.2 93.6"/>
<path class="t" d="M515.2 65.6 522.6 84.9"/>
<path class="t" d="M535.3 59.4 536.7 80.6"/>
<path class="t" d="M555.9 60 551.2 81"/>
<ellipse class="w" cx="560" cy="136" rx="48" ry="60" transform="rotate(22 560 136)"/>
<ellipse class="l" cx="562" cy="138" rx="32" ry="44" transform="rotate(22 562 138)"/>
<path class="w" d="M608 190 L640 168 L660 178 L700 170 L760 160 L830 175 L740 260 L720 370 L660 330 L630 270 L612 240Z"/>
<path class="l" d="M625 185 650 215 640 245"/>
<path class="t" d="M640 178 665 205"/>
<path class="l" d="M690 250 705 290 735 285 730 250 700 235"/>
<path class="t" d="M660 178 680 300"/>
<ellipse class="w" cx="888" cy="350" rx="168" ry="188" transform="rotate(22 888 350)"/>
<path class="l" d="M800.8 198.5 778.8 184.5"/>
<path class="l" d="M827.7 182.2 805.7 168.2"/>
<path class="l" d="M856.3 171.1 834.3 157.1"/>
<path class="l" d="M886 165.4 864 151.4"/>
<path class="l" d="M915.7 165.3 893.7 151.3"/>
<path class="l" d="M944.6 170.9 922.6 156.9"/>
<path class="l" d="M971.7 181.8 949.7 167.8"/>
<path class="l" d="M996.3 197.9 974.3 183.9"/>
<path class="l" d="M1017.7 218.6 995.7 204.6"/>
<path class="l" d="M1035 243.3 1013 229.3"/>
<path class="l" d="M1047.9 271.2 1025.9 257.2"/>
<path class="l" d="M1056 301.6 1034 287.6"/>
<path class="l" d="M1058.9 333.4 1036.9 319.4"/>
<ellipse class="l" cx="905" cy="358" rx="140" ry="165" transform="rotate(22 905 358)"/>
<ellipse class="l" cx="908" cy="362" rx="118" ry="145" transform="rotate(22 908 362)"/>
<path class="fk" d="M990.7 407.5 1000.7 389.5 1010.7 407.5 Z"/>
<path class="fk" d="M963.5 451.7 973.5 433.7 983.5 451.7 Z"/>
<path class="fk" d="M925 481.9 935 463.9 945 481.9 Z"/>
<path class="fk" d="M881.8 492.7 891.8 474.7 901.8 492.7 Z"/>
<path class="fk" d="M841.4 482.3 851.4 464.3 861.4 482.3 Z"/>
<path class="fk" d="M810.8 452.4 820.8 434.4 830.8 452.4 Z"/>
<path class="fk" d="M795.2 408.4 805.2 390.4 815.2 408.4 Z"/>
<path class="fk" d="M797.5 357.6 807.5 339.6 817.5 357.6 Z"/>
<path class="fk" d="M817.1 309.1 827.1 291.1 837.1 309.1 Z"/>
<path class="fk" d="M850.7 271 860.7 253 870.7 271 Z"/>
<path class="fk" d="M892.5 250.1 902.5 232.1 912.5 250.1 Z"/>
<path class="fk" d="M935.3 249.9 945.3 231.9 955.3 249.9 Z"/>
<path class="fk" d="M971.5 270.5 981.5 252.5 991.5 270.5 Z"/>
<path class="fk" d="M995.1 308.2 1005.1 290.2 1015.1 308.2 Z"/>
<path class="fk" d="M1001.9 356.7 1011.9 338.7 1021.9 356.7 Z"/>
<ellipse class="w" cx="890" cy="350" rx="70" ry="92" transform="rotate(22 890 350)"/>
<ellipse class="l" cx="885" cy="350" rx="48" ry="64" transform="rotate(22 885 350)"/>
<ellipse class="w" cx="895" cy="355" rx="26" ry="36" transform="rotate(22 895 355)"/>
<path class="f" d="M930 250 Q990 270 980 330 L960 330 Q960 290 920 275Z"/>
<path class="l" d="M820 200 850 170 900 160"/>
<ellipse class="fk" cx="1105" cy="472" rx="66" ry="76" transform="rotate(22 1105 472)"/>
<path class="t" d="M1066.3 537.1 1077.9 517.6"/>
<path class="t" d="M1051.3 522.8 1067.4 507.6"/>
<path class="t" d="M1041.4 503.7 1060.5 494.2"/>
<path class="t" d="M1037.5 481.5 1057.8 478.7"/>
<path class="t" d="M1040.1 458.5 1059.6 462.5"/>
<path class="t" d="M1048.9 436.7 1065.8 447.3"/>
<path class="t" d="M1063.1 418.3 1075.7 434.4"/>
<path class="t" d="M1081.2 405 1088.4 425.1"/>
<path class="t" d="M1101.7 398.1 1102.7 420.3"/>
<path class="t" d="M1122.4 398.3 1117.2 420.4"/>
<ellipse class="w" cx="1125" cy="480" rx="48" ry="62" transform="rotate(22 1125 480)"/>
<ellipse class="l" cx="1128" cy="482" rx="32" ry="46" transform="rotate(22 1128 482)"/>
<ellipse class="w" cx="1225" cy="542" rx="74" ry="80" transform="rotate(22 1225 542)"/>
<ellipse class="t" cx="1226.5" cy="543" rx="66.6" ry="73.6" transform="rotate(22 1226.5 543)"/>
<ellipse class="l" cx="1230" cy="545" rx="44.4" ry="50.4" transform="rotate(22 1230 545)"/>
</g>
<!-- 25_t20.svg -->
<g transform="scale(.25)">
<path class="fk" d="M3423.84 294.42 3462.65 284.743 3456.55 260.291 3417.74 269.968 Z"/>
<ellipse class="fk" cx="3397.5" cy="288" rx="30" ry="31.5"/>
<ellipse class="wf" cx="3384.9" cy="292.5" rx="6" ry="12.6" transform="rotate(-15 3384.9 292.5)"/>
<ellipse class="wf" cx="3401.1" cy="277.5" rx="8.4" ry="4.8" transform="rotate(30 3401.1 277.5)"/>
<ellipse class="wf" cx="3414" cy="291" rx="3" ry="13.5" transform="rotate(-20 3414 291)"/>
<ellipse class="wf" cx="3399" cy="300" rx="3" ry="6"/>
<path class="l" d="M3610.5 211.9 3624.4 205 3693.6 229.2 3707.4 243 3762.7 270.7 3797.3 298.4 3838.8 326 3840.2 851.8 3818.1 867 3797.3 848.3 3735.1 796.4 3733.7 768.7 3745.4 748 3735.1 609.6 3707.4 533.6 3686.6 492 3679.7 450.5 3645.1 443.6 3624.4 395.2 3617.5 298.4 Z"/>
<path class="k" d="M3828.4 339.9 3830.5 844.8"/>
<path class="l" d="M3624.4 229.2 3679.7 249.9 3693.6 298.4 3748.9 326 3755.8 409 3804.2 436.7 3818.1 464.4"/>
<path class="l" d="M3755.8 326 3804.2 341.2 3807.7 422.9 3762.7 412.5 Z"/>
<path class="k" d="M3773.1 332.9 3776.6 416"/>
<path class="k" d="M3793.9 341.2 3795.9 419.4"/>
<path class="l" d="M3624.4 319.1 3665.9 326 3679.7 367.5 3645.1 374.4 3624.4 360.6"/>
<path class="k" d="M3645.1 339.9 3665.9 367.5"/>
<path class="l" d="M3645.1 443.6 3679.7 422.9 3735.1 429.8 3762.7 464.4 3797.3 485.1 3804.2 519.7 3769.6 519.7 3748.9 485.1 3693.6 464.4 3679.7 450.5"/>
<path class="k" d="M3693.6 426.3 3707.4 464.4"/>
<path class="k" d="M3728.1 433.2 3735.1 471.3"/>
<path class="t" d="M3686.6 492 3735.1 505.9 3735.1 519.7"/>
<path class="l" d="M3586.3 263.8 3610.5 253.4 3624.4 263.8 3624.4 298.4 3603.6 308.7 3586.3 294.9 Z"/>
<ellipse class="l" cx="3645.1" cy="270.7" rx="19.4" ry="23.5"/>
<ellipse class="fk" cx="3679.7" cy="246.5" rx="9.7" ry="9.7"/>
<ellipse class="fk" cx="3697" cy="234.7" rx="12.5" ry="8.3"/>
<ellipse class="fk" cx="3762.7" cy="274.1" rx="15.2" ry="8.3"/>
<path class="l" d="M3707.4 270.7 3762.7 298.4 3769.6 326"/>
<path class="k" d="M3721.2 284.5 3724.7 326"/>
<ellipse class="fk" cx="3816.7" cy="346.8" rx="6.9" ry="8.3"/>
<ellipse class="fk" cx="3818.1" cy="464.4" rx="8.3" ry="11.1"/>
<ellipse class="fk" cx="3818.1" cy="578.5" rx="6.9" ry="9.7"/>
<ellipse class="fk" cx="3816.7" cy="709.9" rx="6.2" ry="8.3"/>
<ellipse class="fk" cx="3735.1" cy="592.3" rx="5.5" ry="8.3"/>
<ellipse class="fk" cx="3742" cy="789.5" rx="6.9" ry="9.7"/>
<ellipse class="fk" cx="3819.5" cy="855.2" rx="8.3" ry="8.3"/>
<ellipse class="fk" cx="3652" cy="440.2" rx="6.9" ry="8.3"/>
<ellipse class="fk" cx="3620.9" cy="225.7" rx="5.5" ry="6.9"/>
<ellipse class="l" cx="3800.8" cy="756.3" rx="13.8" ry="23.5"/>
<ellipse class="fk" cx="3800.8" cy="756.3" rx="5.5" ry="11.1"/>
<ellipse class="w" cx="4196.8" cy="767.5" rx="56" ry="66" transform="rotate(22 4196.8 767.5)"/>
<ellipse class="t" cx="4198.3" cy="768.5" rx="50.4" ry="60.72" transform="rotate(22 4198.3 768.5)"/>
<ellipse class="l" cx="4201.8" cy="770.5" rx="36.96" ry="45.738" transform="rotate(22 4201.8 770.5)"/>
<ellipse class="w" cx="4315.2" cy="833.7" rx="68" ry="80" transform="rotate(22 4315.2 833.7)"/>
<ellipse class="t" cx="4316.7" cy="834.7" rx="61.2" ry="73.6" transform="rotate(22 4316.7 834.7)"/>
<ellipse class="l" cx="4320.2" cy="836.7" rx="44.88" ry="55.44" transform="rotate(22 4320.2 836.7)"/>
<ellipse class="fk" cx="4439.8" cy="905.3" rx="64" ry="72" transform="rotate(22 4439.8 905.3)"/>
<path class="t" d="M4402.9 966.9 4414 948.4"/>
<path class="t" d="M4388.3 953.2 4403.7 938.8"/>
<path class="t" d="M4378.5 934.9 4396.9 926"/>
<path class="t" d="M4374.7 913.8 4394.2 911.3"/>
<path class="t" d="M4377 891.9 4395.8 895.9"/>
<path class="t" d="M4385.3 871.3 4401.7 881.5"/>
<path class="t" d="M4398.9 853.9 4411.2 869.3"/>
<path class="t" d="M4416.3 841.4 4423.4 860.6"/>
<path class="t" d="M4436 835.1 4437.1 856.1"/>
<path class="t" d="M4456.1 835.4 4451.2 856.4"/>
<ellipse class="w" cx="4457.72" cy="911.3" rx="46.08" ry="57.6" transform="rotate(22 4457.72 911.3)"/>
<ellipse class="l" cx="4460.28" cy="913.3" rx="29.44" ry="40.32" transform="rotate(22 4460.28 913.3)"/>
<ellipse class="w" cx="4644.5" cy="1005" rx="136" ry="148" transform="rotate(22 4644.5 1005)"/>
<path class="l" d="M4512.3 1054.2 4546.3 1066.2"/>
<path class="l" d="M4507.2 1024.8 4541.2 1036.8"/>
<path class="l" d="M4507.9 994.5 4541.9 1006.5"/>
<path class="l" d="M4514.5 964.7 4548.5 976.7"/>
<path class="l" d="M4526.7 936.6 4560.7 948.6"/>
<path class="l" d="M4543.9 911.4 4577.9 923.4"/>
<path class="l" d="M4565.5 890.3 4599.5 902.3"/>
<path class="l" d="M4590.4 874 4624.4 886"/>
<path class="l" d="M4617.6 863.4 4651.6 875.4"/>
<ellipse class="w" cx="4670.5" cy="1009" rx="112" ry="132" transform="rotate(22 4670.5 1009)"/>
<ellipse class="l" cx="4672.5" cy="1011" rx="96" ry="116" transform="rotate(22 4672.5 1011)"/>
<ellipse class="l" cx="4662.5" cy="1015" rx="60" ry="72" transform="rotate(22 4662.5 1015)"/>
<ellipse class="l" cx="4666.5" cy="1019" rx="40" ry="48" transform="rotate(22 4666.5 1019)"/>
<ellipse class="w" cx="4682.5" cy="1029" rx="18" ry="20" transform="rotate(22 4682.5 1029)"/>
<path class="k" d="M4671.6 1124.6 4666 1125.4 4660.5 1125.8 4654.9 1125.9 4649.4 1125.5 4643.9 1124.8 4638.5 1123.7 4633.2 1122.2 4628 1120.3 4623 1118.1 4618.2 1115.5 4613.5 1112.5 4609.1 1109.3 4604.8 1105.7 4600.9 1101.8 4597.1 1097.6 4593.7 1093.1 4590.6 1088.4 4587.7 1083.5 4585.2 1078.4 4583.1 1073.1 4581.2 1067.6 4579.7 1062 4578.6 1056.2 4577.8 1050.4"/>
<ellipse class="fk" cx="4841.8" cy="1106.3" rx="62" ry="74" transform="rotate(22 4841.8 1106.3)"/>
<path class="t" d="M4804.5 1169.8 4815.7 1150.8"/>
<path class="t" d="M4790.5 1156.2 4805.9 1141.2"/>
<path class="t" d="M4781.3 1137.8 4799.5 1128.3"/>
<path class="t" d="M4778 1116.3 4797.1 1113.3"/>
<path class="t" d="M4780.7 1094 4799 1097.7"/>
<path class="t" d="M4789.3 1072.8 4805 1082.8"/>
<path class="t" d="M4802.9 1054.8 4814.5 1070.2"/>
<path class="t" d="M4820.2 1041.7 4826.7 1061.1"/>
<path class="t" d="M4839.5 1034.8 4840.2 1056.2"/>
<path class="t" d="M4859.1 1034.7 4853.9 1056.2"/>
<ellipse class="w" cx="4859.16" cy="1112.3" rx="44.64" ry="59.2" transform="rotate(22 4859.16 1112.3)"/>
<ellipse class="l" cx="4861.64" cy="1114.3" rx="28.52" ry="41.44" transform="rotate(22 4861.64 1114.3)"/>
<ellipse class="w" cx="4987.4" cy="1180.3" rx="68" ry="78" transform="rotate(22 4987.4 1180.3)"/>
<ellipse class="t" cx="4988.9" cy="1181.3" rx="61.2" ry="71.76" transform="rotate(22 4988.9 1181.3)"/>
<ellipse class="l" cx="4992.4" cy="1183.3" rx="38.08" ry="45.864" transform="rotate(22 4992.4 1183.3)"/>
<ellipse class="fk" cx="5133.1" cy="1252.7" rx="54" ry="58" transform="rotate(22 5133.1 1252.7)"/>
<ellipse class="w" cx="5143.1" cy="1256.7" rx="40" ry="46" transform="rotate(22 5143.1 1256.7)"/>
<ellipse class="l" cx="5145.1" cy="1257.7" rx="26" ry="34" transform="rotate(22 5145.1 1257.7)"/>
<ellipse class="t" cx="5147.1" cy="1258.7" rx="14" ry="22" transform="rotate(22 5147.1 1258.7)"/>
<path class="l" d="M5862.1 540.1 5911.3 525.9 5960.4 532.4 6031.4 532.4 6135.2 594.7 6135.2 627.4 6107.8 632.9 6096.9 660.2 6058.7 654.7 6004.1 665.7 5982.3 643.8 5922.2 611.1 5916.7 589.2 5878.5 556.5 Z"/>
<path class="l" d="M5960.4 532.4 6058.7 594.7 6135.2 594.7"/>
<path class="l" d="M6058.7 594.7 6058.7 654.7"/>
<path class="l" d="M5927.6 567.4 5982.3 589.2 5982.3 643.8"/>
<path class="t" d="M5949.5 545.5 6036.9 600.1 6036.9 643.8"/>
<path class="k" d="M5922.2 611.1 5949.5 594.7 5982.3 611.1"/>
<path class="k" d="M5867.6 545.5 5900.3 556.5"/>
<path class="k" d="M6036.9 643.8 6091.5 632.9"/>
<path class="l" d="M6009.6 665.7 6020.5 714.8 6031.4 807.6 6080.5 807.6 6096.9 720.3 6113.3 687.5 6107.8 660.2"/>
<path class="l" d="M6012.8 693 6069.6 714.8 6111.1 698.4"/>
<path class="t" d="M6069.6 714.8 6064.2 807.6"/>
<path class="k" d="M6075.1 753 6058.7 796.7"/>
<path class="l" d="M6034.7 813.1 6080.5 813.1 6080.5 856.8 6034.7 856.8 Z"/>
<path class="l" d="M6023.8 845.9 6020.5 938.7 5993.2 1047.9 5916.7 1135.3 5840.3 1222.7 5802 1310 5785.7 1375.6"/>
<path class="l" d="M6100.2 851.3 6096.9 949.6 6058.7 1069.8 5982.3 1157.1 5905.8 1244.5 5867.6 1331.9 5856.7 1391.9"/>
<path class="l" d="M5785.7 1375.6 5856.7 1391.9"/>
<path class="l" d="M5794.4 1381 5780.2 1446.6"/>
<path class="l" d="M5849 1391.9 5838.1 1457.5"/>
<path class="l" d="M5780.2 1446.6 5742 1468.4 5736.5 1501.2 5709.2 1506.6 5725.6 1555.8 5856.7 1572.2 5867.6 1528.5 5856.7 1484.8 5838.1 1457.5 5780.2 1446.6"/>
<path class="l" d="M5731.1 1561.2 5687.4 1654.1"/>
<path class="l" d="M5758.4 1563.4 5714.7 1665"/>
<path class="l" d="M5785.7 1567.8 5747.4 1670.4"/>
<path class="l" d="M5813 1572.2 5780.2 1675.9"/>
<path class="l" d="M5840.3 1572.2 5813 1675.9"/>
</g>
<!-- 26_housingR.svg -->
<g transform="scale(.25)">
<path class="l" d="M4640.8 1621.4 4752.9 1483.8 4915.9 1468.5 5007.6 1417.6 5079 1443.1 5150.3 1412.5 5180.9 1376.8 5211.5 1369.7 5252.2 1392.1 5313.4 1351.3 5354.1 1366.6 5349 1336.1 5415.3 1325.9 5486.6 1346.2 5522.3 1392.1 5527.4 1473.6 5619.1 1524.6 5629.3 1575.5 5680.3 1606.1 5690.4 1687.6 5695.5 1718.2 5695.5 1820.1 5710.8 1891.5 5705.7 1932.2 5659.9 2013.8 5619.1 2064.7 5593.6 2125.9 5517.2 2176.8 5405.1 2197.2 5328.7 2232.9 5231.8 2288.9 5150.3 2299.1 5089.2 2309.3 4946.5 2319.5 4895.5 2283.8 4865 2258.3 4681.5 2253.2 4676.4 2283.8 4645.9 2283.8 4640.8 2166.6 4656.1 2146.2 4640.8 1993.4 4651 1636.7 Z"/>
<path class="l" d="M4666.2 1631.6 4663.2 2156.4"/>
<path class="l" d="M4686.6 1626.5 4691.7 1789.6 4686.6 1993.4 4681.5 2253.2"/>
<path class="l" d="M4686.6 1626.5 4890.4 1728.4 4890.4 2258.3"/>
<path class="l" d="M4752.9 1483.8 4737.6 1585.7 4686.6 1626.5"/>
<path class="l" d="M4701.9 1646.9 4778.3 1708 4788.5 1769.2 4819.1 1789.6 4819.1 1973 4839.5 2054.5 4844.6 2176.8 4875.2 2197.2"/>
<path class="l" d="M4742.7 1820.1 4752.9 1891.5 4793.6 1983.2 4803.8 2176.8"/>
<path class="l" d="M4707 1952.6 4763.1 1932.2 4793.6 1993.4 4732.5 2013.8 4707 1952.6"/>
<path class="l" d="M4661.1 2095.3 4742.7 2054.5 4752.9 2095.3 4671.3 2136.1"/>
<path class="t" d="M4865 1748.8 4867 1993.4 4873.1 2227.8"/>
<path class="l" d="M4691.7 2156.4 4803.8 2202.3 4865 2227.8"/>
<path class="l" d="M4801.4 1534.7 4800.3 1536.4 4798.9 1537.8 4797.2 1538.9 4795.4 1539.5 4793.5 1539.7 4791.7 1539.5 4789.9 1538.8 4788.2 1537.7 4786.8 1536.3 4785.7 1534.6 4785 1532.6 4784.6 1530.6 4784.7 1528.5 4785.1 1526.4 4785.9 1524.5 4787.1 1522.8 4788.5 1521.5 4790.2 1520.5 4792 1519.9 4793.9 1519.7 4795.7 1520 4797.5 1520.7 4799.1 1521.8 4800.5 1523.3"/>
<path class="l" d="M4750.5 2217.5 4749.4 2219.2 4748 2220.6 4746.3 2221.7 4744.5 2222.3 4742.6 2222.5 4740.8 2222.3 4739 2221.6 4737.3 2220.5 4735.9 2219.1 4734.8 2217.4 4734.1 2215.4 4733.7 2213.4 4733.8 2211.3 4734.2 2209.2 4735 2207.3 4736.2 2205.6 4737.6 2204.3 4739.3 2203.3 4741.1 2202.7 4743 2202.5 4744.8 2202.8 4746.6 2203.5 4748.2 2204.6 4749.6 2206.1"/>
<path class="l" d="M4801.4 2243 4800.3 2244.7 4798.9 2246.1 4797.2 2247.2 4795.4 2247.8 4793.5 2248 4791.7 2247.8 4789.9 2247.1 4788.2 2246 4786.8 2244.6 4785.7 2242.9 4785 2240.9 4784.6 2238.9 4784.7 2236.8 4785.1 2234.7 4785.9 2232.8 4787.1 2231.1 4788.5 2229.8 4790.2 2228.8 4792 2228.2 4793.9 2228 4795.7 2228.3 4797.5 2229 4799.1 2230.1 4800.5 2231.6"/>
<path class="l" d="M4704.6 1804.7 4703.5 1806.4 4702.1 1807.8 4700.4 1808.9 4698.6 1809.5 4696.7 1809.7 4694.9 1809.5 4693.1 1808.8 4691.4 1807.7 4690 1806.3 4688.9 1804.6 4688.2 1802.6 4687.8 1800.6 4687.9 1798.5 4688.3 1796.4 4689.1 1794.5 4690.3 1792.8 4691.7 1791.5 4693.4 1790.5 4695.2 1789.9 4697.1 1789.7 4698.9 1790 4700.7 1790.7 4702.3 1791.8 4703.7 1793.3"/>
<path class="l" d="M4755.6 1835.3 4754.5 1837 4753.1 1838.4 4751.4 1839.5 4749.6 1840.1 4747.7 1840.3 4745.9 1840.1 4744.1 1839.4 4742.4 1838.3 4741 1836.9 4739.9 1835.2 4739.2 1833.2 4738.8 1831.2 4738.9 1829.1 4739.3 1827 4740.1 1825.1 4741.3 1823.4 4742.7 1822.1 4744.4 1821.1 4746.2 1820.5 4748.1 1820.3 4749.9 1820.6 4751.7 1821.3 4753.3 1822.4 4754.7 1823.9"/>
<path class="l" d="M4877.9 1871 4876.8 1872.7 4875.4 1874.1 4873.7 1875.2 4871.9 1875.8 4870 1876 4868.2 1875.8 4866.4 1875.1 4864.7 1874 4863.3 1872.6 4862.2 1870.9 4861.5 1868.9 4861.1 1866.9 4861.2 1864.8 4861.6 1862.7 4862.4 1860.8 4863.6 1859.1 4865 1857.8 4866.7 1856.8 4868.5 1856.2 4870.4 1856 4872.2 1856.3 4874 1857 4875.6 1858.1 4877 1859.6"/>
<path class="l" d="M4883 2090.1 4881.9 2091.8 4880.5 2093.2 4878.8 2094.3 4877 2094.9 4875.1 2095.1 4873.3 2094.9 4871.5 2094.2 4869.8 2093.1 4868.4 2091.7 4867.3 2090 4866.6 2088 4866.2 2086 4866.3 2083.9 4866.7 2081.8 4867.5 2079.9 4868.7 2078.2 4870.1 2076.9 4871.8 2075.9 4873.6 2075.3 4875.5 2075.1 4877.3 2075.4 4879.1 2076.1 4880.7 2077.2 4882.1 2078.7"/>
<path class="l" d="M4740.3 2069.7 4739.2 2071.4 4737.8 2072.8 4736.1 2073.9 4734.3 2074.5 4732.4 2074.7 4730.6 2074.5 4728.8 2073.8 4727.1 2072.7 4725.7 2071.3 4724.6 2069.6 4723.9 2067.6 4723.5 2065.6 4723.6 2063.5 4724 2061.4 4724.8 2059.5 4726 2057.8 4727.4 2056.5 4729.1 2055.5 4730.9 2054.9 4732.8 2054.7 4734.6 2055 4736.4 2055.7 4738 2056.8 4739.4 2058.3"/>
<path class="l" d="M4915.9 1468.5 4854.8 1524.6 4905.7 1565.4 4997.5 1555.2"/>
<path class="t" d="M5007.6 1417.6 5002.5 1443.1"/>
<ellipse class="l" cx="5007.6" cy="1448.2" rx="10.2" ry="10.2"/>
<path class="l" d="M4844.6 1616.3 4936.3 1677.5 4987.3 1708 5007.6 1728.4"/>
<path class="l" d="M4956.7 1494 5048.4 1529.7 5252.2 1453.2 5313.4 1483.8"/>
<path class="l" d="M5007.6 1524.6 5129.9 1585.7 5313.4 1499.1 5333.8 1524.6"/>
<path class="k" d="M5028 1545 5038.2 1606.1"/>
<path class="l" d="M5058.6 1565.4 5063.7 1626.5"/>
<path class="t" d="M5048.4 1529.7 5129.9 1547 5252.2 1499.1"/>
<path class="t" d="M5079 1555.2 5211.5 1509.3"/>
<path class="l" d="M5150.3 1412.5 5170.7 1432.9 5252.2 1412.5 5374.5 1371.7"/>
<path class="t" d="M5211.5 1402.3 5333.8 1432.9 5354.1 1463.4"/>
<path class="l" d="M5354.1 1366.6 5415.3 1381.9 5445.9 1494"/>
<path class="l" d="M5415.3 1325.9 5405.1 1371.7 5476.4 1381.9 5517.2 1392.1"/>
<path class="k" d="M5374.5 1453.2 5405.1 1468.5 5384.7 1483.8"/>
<path class="l" d="M5129.9 1585.7 5150.3 1616.3 5170.7 1667.3 5221.7 1646.9 5211.5 1616.3 5303.2 1575.5 5333.8 1585.7 5394.9 1626.5 5445.9 1616.3"/>
<path class="l" d="M5445.9 1667.3 5496.8 1636.7 5517.2 1595.9 5578.3 1575.5 5619.1 1585.7"/>
<ellipse class="w" cx="5165.6" cy="1631.6" rx="22.4" ry="24.7"/>
<ellipse class="l" cx="5168.7" cy="1634.6" rx="11.2" ry="12.3"/>
<ellipse class="w" cx="5333.8" cy="1570.4" rx="24.5" ry="26.9"/>
<ellipse class="l" cx="5336.8" cy="1573.5" rx="12.2" ry="13.5"/>
<ellipse class="w" cx="5466.2" cy="1611.2" rx="22.4" ry="24.7"/>
<ellipse class="l" cx="5469.3" cy="1614.3" rx="11.2" ry="12.3"/>
<ellipse class="w" cx="5496.8" cy="1524.6" rx="22.4" ry="24.7"/>
<ellipse class="l" cx="5499.9" cy="1527.6" rx="11.2" ry="12.3"/>
<ellipse class="w" cx="5639.5" cy="1606.1" rx="16.3" ry="17.9"/>
<ellipse class="l" cx="5642.5" cy="1609.2" rx="8.2" ry="9"/>
<ellipse class="w" cx="5695.5" cy="1616.3" rx="14.3" ry="15.7"/>
<ellipse class="l" cx="5698.6" cy="1619.4" rx="7.1" ry="7.8"/>
<path class="t" d="M5527.4 1473.6 5547.8 1514.4 5608.9 1545"/>
<path class="l" d="M5170.7 1667.3 5079 1728.4 5007.6 1809.9 4946.5 1932.2 4915.9 2013.8 4905.7 2095.3 4936.3 2156.4 5007.6 2197.2 5079 2248.2 5089.2 2309.3"/>
<path class="l" d="M5211.5 1636.7 5109.6 1718.2 5028 1830.3 4977.1 1942.4 4956.7 1993.4"/>
<path class="l" d="M4890.4 1728.4 4977.1 1713.1 4992.4 1733.5 5048.4 1743.7 5079 1759 5048.4 1789.6 4987.3 1799.7"/>
<path class="l" d="M4900.6 1743.7 4905.7 1820.1 4936.3 1820.1 4941.4 1738.6"/>
<ellipse class="w" cx="5012.7" cy="1759" rx="20.4" ry="22.4"/>
<ellipse class="l" cx="5014.8" cy="1761" rx="10.2" ry="11.2"/>
<ellipse class="w" cx="4941.4" cy="1973" rx="20.4" ry="22.4"/>
<ellipse class="l" cx="4943.4" cy="1975" rx="10.2" ry="11.2"/>
<ellipse class="w" cx="4972" cy="2151.3" rx="18.3" ry="20.2"/>
<ellipse class="l" cx="4974" cy="2153.4" rx="9.2" ry="10.1"/>
<ellipse class="w" cx="5094.3" cy="2253.2" rx="22.4" ry="24.7"/>
<ellipse class="l" cx="5096.3" cy="2255.3" rx="11.2" ry="12.3"/>
<ellipse class="w" cx="5236.9" cy="2273.6" rx="18.3" ry="20.2"/>
<ellipse class="l" cx="5239" cy="2275.7" rx="9.2" ry="10.1"/>
<ellipse class="fk" cx="5094.3" cy="2258.3" rx="14.3" ry="18.3"/>
<path class="l" d="M5002.5 1952.6 5252.2 1759 5313.4 1748.8 5685.4 1713.1"/>
<path class="l" d="M5017.8 1964.8 5262.4 1774.3 5680.3 1730.4"/>
<path class="l" d="M5211.5 1830.3 5252.2 1881.3 5313.4 1779.4"/>
<path class="t" d="M5221.7 1820.1 5293 1850.7"/>
<path class="l" d="M5313.4 1779.4 5374.5 1850.7 5415.3 1769.2"/>
<path class="k" d="M5415.3 1759 5420.4 1952.6"/>
<path class="l" d="M5435.7 1759 5437.7 1932.2 5619.1 1973"/>
<path class="l" d="M5507 1753.9 5509 1891.5"/>
<path class="l" d="M5522.3 1753.9 5524.3 1891.5"/>
<path class="t" d="M5456.1 1809.9 5496.8 1789.6"/>
<path class="t" d="M5451 1871.1 5496.8 1850.7"/>
<ellipse class="l" cx="5379.6" cy="1830.3" rx="24.5" ry="28.5"/>
<ellipse class="fk" cx="5379.6" cy="1830.3" rx="12.2" ry="14.3"/>
<path class="k" d="M5558 1871.1 5593.6 1809.9"/>
<ellipse class="fk" cx="5596.7" cy="1809.9" rx="8.2" ry="8.2"/>
<path class="l" d="M5558 1891.5 5670.1 1860.9"/>
<ellipse class="w" cx="5665" cy="1835.4" rx="14.3" ry="18.3"/>
<path class="l" d="M5445.9 1932.2 5466.2 1906.8 5547.8 1901.7 5619.1 1932.2 5608.9 1973"/>
<ellipse class="l" cx="5568.2" cy="1942.4" rx="30.6" ry="18.3"/>
<ellipse class="l" cx="5547.8" cy="2008.7" rx="10.2" ry="10.2"/>
<path class="l" d="M5685.4 1713.1 5695.5 1820.1"/>
<ellipse class="w" cx="5165.6" cy="1932.2" rx="32.6" ry="34.6"/>
<ellipse class="l" cx="5165.6" cy="1932.2" rx="14.3" ry="15.3"/>
<path class="l" d="M5231.8 1891.5 5293 1866 5343.9 1881.3 5359.2 1942.4 5303.2 2054.5 5252.2 2069.8 5221.7 2034.1 5223.7 1952.6 Z"/>
<ellipse class="k" cx="5293" cy="1922" rx="36.7" ry="42.8"/>
<ellipse class="l" cx="5298.1" cy="1927.1" rx="14.3" ry="18.3"/>
<path class="t" d="M5252.2 1993.4 5293 1973 5313.4 2013.8"/>
<path class="l" d="M5129.9 1983.2 5170.7 2054.5 5252.2 2085.1 5313.4 2095.3 5496.8 2054.5 5619.1 1993.4 5680.3 1932.2"/>
<path class="l" d="M5354.1 1983.2 5405.1 1993.4 5486.6 2034.1"/>
<ellipse class="l" cx="5440.8" cy="2074.9" rx="26.5" ry="40.8" transform="rotate(25 5440.8 2074.9)"/>
<ellipse class="w" cx="5501.9" cy="2095.3" rx="16.3" ry="20.4"/>
<ellipse class="w" cx="5359.2" cy="2207.4" rx="12.2" ry="14.3"/>
<path class="l" d="M5313.4 2095.3 5333.8 2146.2 5405.1 2176.8"/>
<path class="l" d="M5598.7 2074.9 5619.1 2095.3 5619.1 2064.7"/>
<ellipse class="fk" cx="5695.5" cy="1922" rx="10.2" ry="10.2"/>
<ellipse class="l" cx="5619.1" cy="1606.1" rx="10.2" ry="10.2"/>
<path class="l" d="M4997.5 2064.7 5048.4 2034.1 5109.6 2039.2 5124.8 2085.1 5109.6 2125.9 5048.4 2136.1 5002.5 2115.7 Z"/>
<path class="k" d="M5028 2064.7 5033.1 2115.7"/>
<path class="k" d="M5068.8 2018.9 5068.8 2054.5"/>
<path class="k" d="M5048.4 2013.8 5099.4 2013.8 5129.9 2054.5"/>
<path class="l" d="M5048.4 2156.4 5079 2207.4 5150.3 2227.8 5170.7 2176.8 5191.1 2115.7"/>
<path class="l" d="M5150.3 2299.1 5170.7 2176.8"/>
<path class="l" d="M5211.5 2146.2 5252.2 2085.1"/>
<path class="k" d="M5211.5 2166.6 5303.2 2095.3"/>
<path class="l" d="M5293 2125.9 5303.2 2227.8"/>
<path class="t" d="M4895.5 2283.8 4946.5 2258.3 5068.8 2248.2"/>
<path class="l" d="M4905.7 2227.8 4956.7 2283.8 4961.8 2309.3"/>
</g>
<!-- 26b_housingR2.svg -->
<g transform="scale(.25)">
<path class="k" d="M4685.2 1643.8 4687 2164.2"/>
<path class="l" d="M4637.8 2164.2 4685.2 2164.2 4689.9 2277.7 4642.6 2282.5 4637.8 2164.2"/>
<path class="l" d="M4741.9 1643.8 4779.8 1672.2 4789.2 1757.4 4817.6 1804.7 4827.1 1908.8 4846 2003.4 4855.5 2135.8 4869.6 2192.6 4883.8 2202"/>
<path class="l" d="M4704.1 1710.1 4760.8 1738.4 4770.3 1804.7 4751.4 1833.1 4765.6 1927.7 4803.4 1984.4 4808.1 2164.2"/>
<path class="l" d="M4704.1 1946.6 4770.3 1927.7 4789.2 2003.4 4723 2012.8 4704.1 1946.6"/>
<path class="l" d="M4656.8 2107.4 4741.9 2060.1 4751.4 2088.5 4666.2 2135.8"/>
<path class="k" d="M4713.5 2060.1 4741.9 2041.2 4751.4 2069.6"/>
<path class="l" d="M4898 1738.4 4931.1 1733.7 4933 1814.1 4900.9 1818.9 4898 1738.4"/>
<path class="l" d="M4997.4 1738.4 5063.6 1743.2 5073.1 1776.3 5025.8 1804.7 4987.9 1785.8 4997.4 1738.4"/>
<path class="k" d="M5016.3 1766.8 4978.4 1852 4921.7 1965.5 4912.2 2022.3"/>
<path class="k" d="M5030.5 1738.4 5129.8 1634.4"/>
<path class="l" d="M5073.1 1738.4 5167.7 1643.8"/>
<path class="k" d="M4874.4 1738.4 4879.1 2211.5"/>
<path class="k" d="M4912.2 2022.3 4921.7 2098 4959.5 2145.3 5016.3 2173.7 5073.1 2239.9"/>
<path class="l" d="M4940.6 2022.3 4978.4 2079.1 4997.4 2041.2"/>
<path class="l" d="M4997.4 2060.1 5044.7 2022.3 5092 2022.3 5129.8 2060.1 5120.4 2116.9 5073.1 2145.3 5016.3 2135.8 4997.4 2107.4 4997.4 2060.1"/>
<path class="k" d="M5044.7 2012.8 5054.1 2041.2 5092 2036.5"/>
<path class="k" d="M5025.8 2079.1 5054.1 2079.1 5054.1 2116.9"/>
<path class="l" d="M5110.9 2060.1 5139.3 2079.1 5129.8 2135.8"/>
<path class="l" d="M5129.8 1946.6 5167.7 1965.5 5205.5 2022.3 5262.3 2060.1"/>
<path class="l" d="M5167.7 2135.8 5148.8 2211.5 5129.8 2306.1"/>
<path class="l" d="M5205.5 2154.7 5186.6 2268.3"/>
<path class="t" d="M4883.8 2239.9 4959.5 2230.4 5044.7 2268.3"/>
<path class="l" d="M4902.8 2268.3 4959.5 2277.7 4959.5 2315.6"/>
<path class="l" d="M4751.4 1492.5 4770.3 1511.4 4741.9 1587.1 4713.5 1606"/>
<path class="t" d="M4827.1 1520.8 4789.2 1549.2 4770.3 1587.1"/>
<path class="l" d="M4855.5 1530.3 4912.2 1568.1 4997.4 1549.2"/>
<path class="k" d="M4902.8 1530.3 4912.2 1568.1"/>
<path class="l" d="M4846 1615.5 4978.4 1691.1 4997.4 1729"/>
<path class="k" d="M4997.4 1525.6 5002.1 1577.6"/>
<path class="k" d="M5030.5 1549.2 5035.2 1596.5"/>
<path class="l" d="M5063.6 1568.1 5068.3 1634.4"/>
<path class="l" d="M5016.3 1520.8 5129.8 1577.6 5262.3 1483"/>
<path class="t" d="M5044.7 1539.8 5167.7 1501.9 5262.3 1454.6"/>
<path class="t" d="M5092 1577.6 5129.8 1549.2 5205.5 1530.3"/>
<path class="l" d="M5129.8 1606 5167.7 1596.5 5186.6 1643.8 5224.4 1634.4"/>
<path class="l" d="M5167.7 1662.8 5243.4 1634.4 5320 1615.5"/>
<ellipse class="fk" cx="4746.6" cy="1828.3" rx="7.6" ry="9.5"/>
<ellipse class="fk" cx="4869.6" cy="1861.4" rx="7.6" ry="9.5"/>
<ellipse class="fk" cx="4869.6" cy="1965.5" rx="7.6" ry="9.5"/>
<ellipse class="fk" cx="4869.6" cy="2088.5" rx="7.6" ry="9.5"/>
<ellipse class="fk" cx="4803.4" cy="2168.9" rx="7.6" ry="9.5"/>
<ellipse class="fk" cx="4694.6" cy="1799.9" rx="7.6" ry="9.5"/>
<ellipse class="fk" cx="4803.4" cy="1984.4" rx="7.6" ry="9.5"/>
<ellipse class="k" cx="4973.7" cy="2145.3" rx="20.8" ry="22.7"/>
<ellipse class="k" cx="5092" cy="2254.1" rx="22.7" ry="26.5"/>
<ellipse class="fk" cx="5063.6" cy="2031.7" rx="17" ry="13.2"/>
<ellipse class="l" cx="4940.6" cy="1970.2" rx="15.1" ry="17"/>
<ellipse class="l" cx="5016.3" cy="1768.7" rx="13.2" ry="15.1"/>
<ellipse class="l" cx="5162.9" cy="1629.6" rx="13.2" ry="15.1"/>
<path class="l" d="M5351.4 1336.8 5417.6 1322.6 5483.8 1346.2 5521.7 1393.5 5526.4 1488.1 5616.3 1535.5 5625.8 1563.8"/>
<path class="l" d="M5351.4 1336.8 5360.8 1365.2 5427.1 1384.1 5446 1497.6"/>
<path class="k" d="M5370.3 1346.2 5398.7 1374.6"/>
<path class="k" d="M5417.6 1327.3 5474.4 1365.2 5502.8 1393.5"/>
<path class="k" d="M5370.3 1459.8 5403.4 1474 5384.5 1492.9"/>
<path class="k" d="M5521.7 1421.9 5523.6 1469.2"/>
<path class="k" d="M5313.5 1535.5 5351.4 1563.8 5341.9 1592.2"/>
<path class="l" d="M5446 1592.2 5483.8 1611.1 5464.9 1658.4"/>
<path class="l" d="M5474.4 1507.1 5512.2 1497.6 5531.1 1535.5 5502.8 1554.4 5474.4 1535.5 5474.4 1507.1"/>
<path class="k" d="M5616.3 1573.3 5654.1 1592.2 5644.7 1620.6"/>
<path class="k" d="M5673.1 1611.1 5710.9 1592.2 5715.6 1630.1"/>
<path class="t" d="M5526.4 1497.6 5597.4 1563.8 5673.1 1639.5"/>
<path class="l" d="M5729.8 1563.8 5720.4 1644.3 5692 1724.7"/>
<path class="l" d="M5753.5 1568.6 5744 1651.4 5715.6 1734.1"/>
<path class="l" d="M5777.1 1573.3 5767.7 1649 5739.3 1724.7"/>
<path class="l" d="M5800.8 1573.3 5793.7 1639.5 5767.7 1705.8"/>
<path class="l" d="M5819.7 1578 5815 1637.2 5791.3 1696.3"/>
<path class="l" d="M5692 1724.7 5701.4 1790.9 5715.6 1809.8"/>
<path class="l" d="M5729.8 1734.1 5767.7 1724.7 5777.1 1743.6"/>
<path class="l" d="M5200 1772 5256.8 1743.6 5692 1705.8"/>
<path class="t" d="M5218.9 1790.9 5275.7 1757.8 5682.5 1719.9"/>
<path class="l" d="M5228.4 1828.8 5266.2 1866.6 5323 1772"/>
<path class="l" d="M5323 1772 5389.2 1847.7 5417.6 1762.5"/>
<path class="k" d="M5417.6 1762.5 5422.3 1942.3"/>
<path class="l" d="M5436.5 1762.5 5441.3 1932.8 5616.3 1980.1"/>
<path class="l" d="M5507.5 1753.1 5510.3 1932.8"/>
<path class="l" d="M5526.4 1753.1 5528.3 1885.5"/>
<path class="t" d="M5455.5 1809.8 5493.3 1790.9"/>
<path class="t" d="M5455.5 1866.6 5493.3 1847.7"/>
<path class="t" d="M5531.1 1847.7 5569 1828.8"/>
<path class="k" d="M5559.5 1885.5 5597.4 1819.3"/>
<path class="l" d="M5569 1895 5673.1 1857.1"/>
<path class="l" d="M5446 1923.4 5512.2 1913.9 5578.4 1923.4 5625.8 1942.3 5616.3 1980.1"/>
<path class="k" d="M5521.7 1942.3 5569 1961.2 5616.3 1942.3"/>
<path class="k" d="M5242.6 1904.4 5285.2 1876.1 5332.5 1895 5341.9 1942.3 5294.6 2036.9 5247.3 2027.4 5228.4 1980.1 5242.6 1904.4"/>
<path class="k" d="M5271 1932.8 5304.1 1913.9 5313.5 1942.3 5285.2 1961.2"/>
<path class="t" d="M5341.9 1942.3 5427.1 1999.1 5512.2 2065.3 5616.3 2093.7"/>
<path class="l" d="M5332.5 1999.1 5389.2 2018 5408.1 1999.1"/>
<path class="l" d="M5323 2065.3 5332.5 2131.5 5389.2 2150.4 5512.2 2112.6 5578.4 2074.7 5616.3 2036.9"/>
<path class="l" d="M5417.6 2065.3 5446 2046.4 5464.9 2065.3 5427.1 2112.6 5408.1 2103.1 5417.6 2065.3"/>
<path class="k" d="M5200 2178.8 5323 2065.3"/>
<path class="l" d="M5256.8 2112.6 5294.6 2226.1"/>
<path class="l" d="M5218.9 2226.1 5313.5 2226.1 5408.1 2178.8 5521.7 2159.9 5578.4 2122 5616.3 2074.7"/>
<path class="l" d="M5616.3 2074.7 5644.7 2018 5710.9 1923.4 5701.4 1809.8"/>
<path class="l" d="M5578.4 2084.2 5616.3 2065.3 5616.3 2093.7"/>
<ellipse class="k" cx="5375" cy="1833.5" rx="20.8" ry="24.6"/>
<ellipse class="w" cx="5502.8" cy="2107.9" rx="13.2" ry="15.1"/>
<ellipse class="w" cx="5668.3" cy="1828.8" rx="13.2" ry="17"/>
<ellipse class="fk" cx="5687.3" cy="1923.4" rx="8.5" ry="9.5"/>
<ellipse class="w" cx="5356.1" cy="2211.9" rx="13.2" ry="15.1"/>
<ellipse class="k" cx="5233.1" cy="2282.9" rx="17" ry="18.9"/>
<ellipse class="l" cx="5493.3" cy="1521.3" rx="18.9" ry="22.7"/>
<ellipse class="l" cx="5469.6" cy="1611.1" rx="17" ry="20.8"/>
<ellipse class="l" cx="5332.5" cy="1554.4" rx="17" ry="20.8"/>
<ellipse class="l" cx="5639.9" cy="1601.7" rx="13.2" ry="17"/>
</g>
<!-- 27_t21.svg -->
<g transform="scale(.25)">
<ellipse class="fk" cx="3574.9" cy="1356.4" rx="34" ry="30" transform="rotate(30 3574.9 1356.4)"/>
<ellipse class="w" cx="3580.9" cy="1360.4" rx="18" ry="16" transform="rotate(30 3580.9 1360.4)"/>
<rect class="w" x="3595.3" y="1353.6" width="59.6" height="26" rx="13" transform="rotate(20.016 3595.3 1366.6)"/>
<path class="l" d="M3707.3 1432.8 3778.6 1422.6 3753.2 1443 3758.3 1550 3712.4 1565.3 Z"/>
<path class="t" d="M3720.6 1453.2 3722.6 1555.1"/>
<ellipse class="l" cx="3737.9" cy="1461.4" rx="10.2" ry="12.2"/>
<path class="k" d="M3898.8 1542.4 3833.2 1555.5 3800.5 1586.1 3793.2 1644.3 3793.2 1702.6 3804.1 1724.4"/>
<path class="l" d="M3893 1556.9 3849.3 1567.9 3831.1 1593.3 3823.8 1644.3 3826 1688"/>
<path class="fk" d="M3793.2 1677.1 3804.1 1724.4 3836.9 1711.3 3828.9 1677.1 Z"/>
<path class="l" d="M3898.8 1542.4 3893 1556.9"/>
<rect class="w" x="3549.4" y="1872.1" width="74.2841" height="22" rx="11" transform="rotate(26.979 3549.4 1883.1)"/>
<rect class="w" x="3457.7" y="2096.3" width="69.7293" height="22" rx="11" transform="rotate(28.8072 3457.7 2107.3)"/>
<path class="l" d="M3717.5 1932 3743 1916.8 3768.5 1952.4 3855.1 2013.6 3880.5 2039 3867.3 2074.7 3832.6 2076.7 3814.3 2049.2 3753.2 2054.3 3671.7 2095.1 3615.6 2107.3 3608.5 2090 3702.2 2028.8 Z"/>
<path class="t" d="M3732.8 1932 3724.7 2033.9 3651.3 2084.9"/>
<ellipse class="l" cx="3850" cy="2049.2" rx="12.2" ry="12.2"/>
<path class="k" d="M3671.7 2064.5 3712.4 2039"/>
<ellipse class="w" cx="3106.2" cy="1967.7" rx="32" ry="30"/>
<ellipse class="fk" cx="3112.2" cy="1973.7" rx="18" ry="18"/>
<rect class="fk" x="3126.6" y="1960.8" width="56.9303" height="24" rx="12" transform="rotate(26.6101 3126.6 1972.8)"/>
<path class="l" d="M3208.1 2054.3 3233.6 2023.7 3259 2028.8 3294.7 2039 3299.8 2059.4 3269.2 2064.5 3243.8 2054.3 3223.4 2095.1 3228.5 2156.2 3192.8 2196.9 3141.9 2237.7 3121.5 2217.3 3101.1 2156.2 3131.7 2115.4 3182.6 2084.9 Z"/>
<path class="l" d="M3131.7 2146 3162.3 2135.8 3192.8 2146 3213.2 2166.4"/>
<path class="l" d="M3141.9 2176.6 3172.4 2196.9"/>
<path class="t" d="M3162.3 2135.8 3141.9 2196.9"/>
<ellipse class="fk" cx="3233.6" cy="2039" rx="10.2" ry="12.2"/>
<path class="k" d="M3192.8 2064.5 3203 2125.6"/>
<ellipse class="l" cx="3192.8" cy="2156.2" rx="12.2" ry="14.3"/>
<path class="l" d="M3360.9 2054.3 3406.8 2064.5 3432.2 2079.8 3427.2 2095.1 3396.6 2090 3366 2069.6 Z"/>
<ellipse class="fk" cx="3411.9" cy="2079.8" rx="10.2" ry="8.2"/>
<path class="l" d="M3335.5 2079.8 3396.6 2107.3"/>
<path class="l" d="M3325.3 2298.8 3376.2 2263.2 3427.2 2266.2 3455.7 2288.6 3452.6 2329.4 3417 2349.8 3366 2339.6 Z"/>
<ellipse class="l" cx="3391.5" cy="2298.8" rx="26.5" ry="28.5"/>
<ellipse class="l" cx="3427.2" cy="2309" rx="18.3" ry="22.4"/>
<path class="k" d="M3345.6 2298.8 3376.2 2319.2"/>
</g>
<!-- 28_t22.svg -->
<g transform="scale(.25)">
<path class="fk" d="M4087.82 2405.27 4131.81 2430.67 4146.09 2405.93 4102.1 2380.53 Z"/>
<ellipse class="fk" cx="4071.4" cy="2379.3" rx="34" ry="35.7"/>
<ellipse class="wf" cx="4057.12" cy="2384.4" rx="6.8" ry="14.28" transform="rotate(-15 4057.12 2384.4)"/>
<ellipse class="wf" cx="4075.48" cy="2367.4" rx="9.52" ry="5.44" transform="rotate(30 4075.48 2367.4)"/>
<ellipse class="wf" cx="4090.1" cy="2382.7" rx="3.4" ry="15.3" transform="rotate(-20 4090.1 2382.7)"/>
<ellipse class="wf" cx="4073.1" cy="2392.9" rx="3.4" ry="6.8"/>
<path class="l" d="M4142.3 2431.4 4194.3 2412.4 4222.7 2450.3 4175.4 2473.9 4156.5 2469.2 Z"/>
<ellipse class="l" cx="4177.3" cy="2445.5" rx="9.5" ry="9.5"/>
<path class="l" d="M4071.4 2502.3 4123.4 2483.4 4161.2 2516.5 4194.3 2502.3 4232.2 2544.9 4293.6 2578 4322 2578 4350.4 2601.6 4336.2 2625.3 4303.1 2625.3 4284.2 2601.6 4232.2 2601.6 4194.3 2582.7 4165.9 2592.2 4128.1 2573.2 4109.2 2554.3 4076.1 2540.1 Z"/>
<path class="k" d="M4071.4 2502.3 4109.2 2516.5 4109.2 2554.3"/>
<path class="l" d="M4123.4 2483.4 4147 2525.9 4137.6 2568.5"/>
<path class="l" d="M4156.5 2469.2 4175.4 2516.5 4203.8 2563.8"/>
<path class="l" d="M4175.4 2473.9 4203.8 2525.9 4241.6 2549.6"/>
<ellipse class="l" cx="4326.8" cy="2601.6" rx="17" ry="17"/>
<ellipse class="l" cx="4326.8" cy="2601.6" rx="7.6" ry="7.6"/>
<path class="k" d="M4080.8 2516.5 4104.5 2527.8"/>
<path class="k" d="M4082.7 2530.7 4104.5 2540.1"/>
<ellipse class="l" cx="4402.4" cy="2650.8" rx="20.8" ry="26.5" transform="rotate(20 4402.4 2650.8)"/>
<path class="fk" d="M4019.69 3014.46 4059.04 3039.05 4073.28 3016.26 4033.93 2991.67 Z"/>
<ellipse class="fk" cx="4005.1" cy="2989.5" rx="32" ry="33.6"/>
<ellipse class="wf" cx="3991.66" cy="2994.3" rx="6.4" ry="13.44" transform="rotate(-15 3991.66 2994.3)"/>
<ellipse class="wf" cx="4008.94" cy="2978.3" rx="8.96" ry="5.12" transform="rotate(30 4008.94 2978.3)"/>
<ellipse class="wf" cx="4022.7" cy="2992.7" rx="3.2" ry="14.4" transform="rotate(-20 4022.7 2992.7)"/>
<ellipse class="wf" cx="4006.7" cy="3002.3" rx="3.2" ry="6.4"/>
<path class="l" d="M4095 3046.2 4142.3 3036.8 4151.8 3065.1 4156.5 3121.9 4194.3 3112.4 4232.2 3103 4279.5 3084.1 4317.3 3084.1 4331.5 3112.4 4326.8 3150.3 4288.9 3164.5 4232.2 3169.2 4213.2 3183.4 4194.3 3164.5 4165.9 3155 4109.2 3164.5 4090.3 3188.1 4123.4 3225.9 4170.7 3211.8 4180.1 3235.4 4147 3254.3 4109.2 3240.1 4076.1 3197.6 4080.8 3164.5 4104.5 3145.5 Z"/>
<path class="t" d="M4109.2 3050.9 4113.9 3140.8"/>
<path class="k" d="M4151.8 3074.6 4156.5 3121.9"/>
<path class="l" d="M4232.2 3103 4236.9 3169.2"/>
<path class="l" d="M4260.5 3093.5 4265.3 3164.5"/>
<path class="k" d="M4293.6 3088.8 4298.4 3159.7"/>
<path class="k" d="M4241.6 3121.9 4288.9 3112.4"/>
<path class="k" d="M4241.6 3145.5 4288.9 3136.1"/>
<ellipse class="l" cx="4151.8" cy="3225.9" rx="17" ry="15.1"/>
<ellipse class="l" cx="4222.7" cy="3268.5" rx="23.6" ry="20.8" transform="rotate(-20 4222.7 3268.5)"/>
<ellipse class="w" cx="6019.5" cy="2181.9" rx="60" ry="70" transform="rotate(22 6019.5 2181.9)"/>
<ellipse class="t" cx="6021.5" cy="2183.9" rx="52.8" ry="63" transform="rotate(22 6021.5 2183.9)"/>
<ellipse class="l" cx="6024.5" cy="2185.9" rx="39.6" ry="50.4" transform="rotate(22 6024.5 2185.9)"/>
<ellipse class="t" cx="6027.5" cy="2187.9" rx="31.2" ry="43.4" transform="rotate(22 6027.5 2187.9)"/>
<path class="k" d="M6004 2228 6000.2 2225.6 5996.8 2222.5 5993.7 2218.8 5991.2 2214.7 5989.1 2210.1 5987.6 2205.2 5986.7 2199.9 5986.3 2194.5 5986.5 2188.9 5987.3 2183.2 5988.7 2177.7 5990.6 2172.2 5993 2166.9 5995.9 2162 5999.2 2157.4 6003 2153.2 6007 2149.5 6011.4 2146.4 6015.9 2143.9 6020.5 2142 6025.2 2140.8 6030 2140.3 6034.6 2140.5 6039 2141.4"/>
<ellipse class="l" cx="6019.5" cy="2181.9" rx="64" ry="74" transform="rotate(22 6019.5 2181.9)"/>
<rect class="w" x="5734.8" y="2162.7" width="257.953" height="26" rx="13" transform="rotate(30.2628 5734.8 2175.7)"/>
<path class="l" d="M5932.9 2278.5 5920.5 2305.7"/>
<path class="l" d="M6137.1 2361.4 6136.1 2372.1 6120.2 2376.7 6116.7 2383.6 6121.9 2400 6114 2406.8 6099.6 2398.3 6092.5 2400.5 6085.1 2416 6075 2415 6070.6 2398.3 6064 2394.6 6048.3 2400 6041.9 2391.7 6050 2376.7 6047.8 2369.2 6033.1 2361.4 6034.1 2350.7 6050 2346.1 6053.5 2339.2 6048.3 2322.8 6056.2 2316 6070.6 2324.5 6077.7 2322.3 6085.1 2306.8 6095.2 2307.8 6099.6 2324.5 6106.2 2328.2 6121.9 2322.8 6128.3 2331.1 6120.2 2346.1 6122.4 2353.6 Z"/>
<path class="l" d="M6097.2 2369.4 6095.5 2372.1 6093.3 2374.4 6090.7 2376 6087.9 2377.1 6085 2377.4 6082.1 2377 6079.3 2375.9 6076.7 2374.2 6074.6 2371.9 6072.9 2369.2 6071.7 2366.1 6071.2 2362.8 6071.2 2359.4 6071.9 2356.1 6073.1 2353.1 6074.9 2350.4 6077.2 2348.2 6079.7 2346.6 6082.6 2345.7 6085.5 2345.4 6088.4 2345.9 6091.2 2347 6093.7 2348.8 6095.8 2351.1"/>
<ellipse class="w" cx="6209" cy="2429.5" rx="62" ry="74" transform="rotate(22 6209 2429.5)"/>
<ellipse class="t" cx="6213" cy="2429.5" rx="54" ry="66" transform="rotate(22 6213 2429.5)"/>
<path class="l" d="M6243.7 2443.5 6239.5 2452 6226.1 2450 6221.8 2454.4 6220.7 2471.1 6213.2 2474.6 6206.6 2461.4 6201.5 2461.4 6190.9 2474.4 6184.5 2470.8 6188.5 2454.1 6185.6 2449.6 6171.7 2451.3 6170.1 2442.8 6182.4 2432.4 6183.4 2426.1 6174.3 2415.5 6178.5 2407 6191.9 2409 6196.2 2404.6 6197.3 2387.9 6204.8 2384.4 6211.4 2397.6 6216.5 2397.6 6227.1 2384.6 6233.5 2388.2 6229.5 2404.9 6232.4 2409.4 6246.3 2407.7 6247.9 2416.2 6235.6 2426.6 6234.6 2432.9 Z"/>
<path class="k" d="M5796.7 2974.3 5827.6 2947 5864.8 2952 5887 2986.7 5877.1 3023.8 5815.2 3098.1 5763.2 3073.3 Z"/>
<path class="l" d="M6007.1 2974.3 6038.1 2955.7 6062.9 2974.3 6056.7 3011.4 6087.6 3036.2 6100 3098.1 6075.2 3147.6 6050.5 3209.5 6013.3 3259 5951.4 3265.2 5901.9 3234.3 5877.1 3209.5 5846.2 3197.1 5852.4 3172.4 5889.5 3147.6 5895.7 3098.1 5889.5 3061 5914.3 3017.6 5957.6 3011.4 Z"/>
<path class="l" d="M5914.3 3017.6 5939 3061 5926.7 3110.5 5895.7 3110.5"/>
<path class="l" d="M5957.6 3011.4 5976.2 3061 5963.8 3160 5988.6 3184.8 5951.4 3265.2"/>
<path class="k" d="M5895.7 3061 5926.7 3042.4"/>
<path class="k" d="M5901.9 3085.7 5929.1 3073.3"/>
<path class="l" d="M5889.5 3147.6 5939 3172.4 5901.9 3234.3"/>
<path class="t" d="M5988.6 3184.8 6050.5 3209.5"/>
<ellipse class="l" cx="6035.6" cy="2980.5" rx="12.4" ry="13.6"/>
<ellipse class="l" cx="6087.6" cy="3104.3" rx="12.4" ry="13.6"/>
<ellipse class="l" cx="6025.7" cy="3240.5" rx="12.4" ry="13.6"/>
<ellipse class="l" cx="5871" cy="3191" rx="12.4" ry="13.6"/>
<path class="k" d="M6062.9 3061 6081.4 3110.5 6062.9 3147.6"/>
<ellipse class="w" cx="6112.4" cy="3283.8" rx="24" ry="22"/>
<rect class="fk" x="6056.7" y="3239.1" width="64.3376" height="20" rx="10" transform="rotate(30.0321 6056.7 3249.1)"/>
<ellipse class="w" cx="5540.4" cy="3219.4" rx="22.3" ry="24.8"/>
<rect class="fk" x="5540.4" y="3210.4" width="65.1565" height="18" rx="9" transform="rotate(-8.73948 5540.4 3219.4)"/>
<ellipse class="w" cx="5537.9" cy="3219.4" rx="17.3" ry="22.3"/>
<ellipse class="l" cx="5629.5" cy="3197.1" rx="8.7" ry="9.9"/>
<path class="w" d="M4952 2652 5010 2636 5070 2640 5086 2660 5086 2682 5030 2680 4968 2692 4952 2676 Z"/>
<path class="l" d="M4952 2652 4968 2668 5030 2658 5086 2660"/>
<path class="l" d="M4968 2668 4968 2692"/>
<path class="l" d="M5030 2658 5030 2680"/>
<path class="k" d="M4980 2650 5060 2642"/>
<path class="k" d="M4990 2660 5040 2652"/>
</g>
<!-- 29_t3.svg -->
<g transform="translate(0 824) scale(.25)">
<ellipse class="l" cx="462" cy="238" rx="36" ry="44" transform="rotate(22 462 238)"/>
<path class="fk" d="M548 250 610 250 668 290 660 350 625 368 565 345 525 300 Z"/>
<ellipse class="w" cx="628" cy="322" rx="30" ry="42" transform="rotate(22 628 322)"/>
<ellipse class="l" cx="632" cy="324" rx="18" ry="28" transform="rotate(22 632 324)"/>
<path class="w" d="M548 262 540 318"/>
<path class="w" d="M560 266 552 324"/>
<path class="w" d="M572 270 564 330"/>
<path class="w" d="M584 274 576 336"/>
<path class="w" d="M596 278 588 342"/>
<path class="w" d="M608 282 600 348"/>
<ellipse class="w" cx="715" cy="375" rx="54" ry="54" transform="rotate(22 715 375)"/>
<ellipse class="t" cx="715" cy="375" rx="46" ry="46" transform="rotate(22 715 375)"/>
<ellipse class="l" cx="718" cy="378" rx="20" ry="30" transform="rotate(22 718 378)"/>
<ellipse class="k" cx="830" cy="442" rx="34" ry="38" transform="rotate(22 830 442)"/>
<ellipse class="t" cx="834" cy="444" rx="20" ry="26" transform="rotate(22 834 444)"/>
<ellipse class="w" cx="948" cy="495" rx="47" ry="50" transform="rotate(22 948 495)"/>
<ellipse class="t" cx="948" cy="495" rx="40" ry="43" transform="rotate(22 948 495)"/>
<ellipse class="l" cx="950" cy="497" rx="16" ry="24" transform="rotate(22 950 497)"/>
<path class="w" d="M1022 545 1050 522 1090 535 1300 655 1265 715 1060 592 1030 590 Z"/>
<path class="t" d="M1030 540 1034 588"/>
<path class="t" d="M1040 537 1044 589"/>
<path class="t" d="M1050 534 1054 590"/>
<path class="t" d="M1060 531 1064 591"/>
<path class="t" d="M1070 528 1074 592"/>
<path class="t" d="M1080 525 1084 593"/>
<path class="l" d="M1090 535 1075 595"/>
<path class="k" d="M1215 625 1240 630"/>
<path class="w" d="M1290 690 1320 640 1350 620 1380 625 1370 660 1330 700 1310 720 Z"/>
<ellipse class="fk" cx="1350" cy="640" rx="22" ry="26" transform="rotate(22 1350 640)"/>
<ellipse class="fk" cx="1275" cy="750" rx="22" ry="30" transform="rotate(22 1275 750)"/>
<ellipse class="w" cx="1375" cy="740" rx="100" ry="118" transform="rotate(22 1375 740)"/>
<ellipse class="l" cx="1385" cy="745" rx="82" ry="100" transform="rotate(22 1385 745)"/>
<ellipse class="l" cx="1395" cy="752" rx="58" ry="74" transform="rotate(22 1395 752)"/>
<ellipse class="t" cx="1405" cy="758" rx="40" ry="54" transform="rotate(22 1405 758)"/>
<ellipse class="l" cx="1415" cy="765" rx="26" ry="36" transform="rotate(22 1415 765)"/>
<ellipse class="w" cx="1440" cy="780" rx="18" ry="20" transform="rotate(22 1440 780)"/>
<path class="l" d="M1290 690 1280 740"/>
</g>
<g transform="translate(398 824) scale(.25)">
<ellipse class="w" cx="140" cy="90" rx="112" ry="138" transform="rotate(22 140 90)"/>
<ellipse class="t" cx="144" cy="92" rx="98.56" ry="124.2" transform="rotate(22 144 92)"/>
<ellipse class="l" cx="150" cy="94" rx="73.92" ry="99.36" transform="rotate(22 150 94)"/>
<ellipse class="t" cx="156" cy="96" rx="58.24" ry="85.56" transform="rotate(22 156 96)"/>
<path class="k" d="M110 177.2 102.9 172.5 96.5 166.6 90.9 159.6 86.3 151.6 82.6 142.7 79.9 133 78.3 122.8 77.8 112.2 78.4 101.2 80.1 90.2 82.9 79.2 86.7 68.4 91.4 58 97.1 48.2 103.5 39.1 110.7 30.8 118.4 23.5 126.7 17.2 135.3 12.1 144.1 8.3 153 5.8 161.9 4.6 170.6 4.8 179 6.4"/>
<ellipse class="w" cx="385" cy="215" rx="145" ry="152" transform="rotate(22 385 215)"/>
<path class="l" d="M244.1 237.9 275.1 232.8"/>
<path class="l" d="M243.5 208 274.6 209.6"/>
<path class="l" d="M248.7 178.5 278.7 186.5"/>
<path class="l" d="M259.6 150.4 287.2 164.6"/>
<path class="l" d="M275.7 125 299.7 144.8"/>
<path class="l" d="M296.2 103.4 315.8 127.9"/>
<path class="l" d="M320.5 86.3 334.7 114.6"/>
<path class="l" d="M347.4 74.6 355.7 105.5"/>
<path class="l" d="M375.9 68.7 377.9 100.9"/>
<path class="l" d="M404.7 68.8 400.4 100.9"/>
<path class="l" d="M432.7 74.9 422.2 105.8"/>
<path class="l" d="M458.8 86.9 442.6 115.1"/>
<path class="l" d="M481.8 104.1 460.5 128.5"/>
<ellipse class="w" cx="420" cy="228" rx="112" ry="132" transform="rotate(22 420 228)"/>
<ellipse class="l" cx="424" cy="232" rx="98" ry="118" transform="rotate(22 424 232)"/>
<ellipse class="l" cx="415" cy="235" rx="66" ry="98" transform="rotate(22 415 235)"/>
<ellipse class="t" cx="420" cy="240" rx="50" ry="84" transform="rotate(22 420 240)"/>
<path class="f" d="M380 290 Q400 320 450 310 L475 285 L470 320 Q440 345 400 335 Q380 320 380 290Z"/>
<ellipse class="w" cx="625" cy="350" rx="108" ry="132" transform="rotate(22 625 350)"/>
<ellipse class="t" cx="629" cy="352" rx="95.04" ry="118.8" transform="rotate(22 629 352)"/>
<ellipse class="l" cx="635" cy="354" rx="71.28" ry="95.04" transform="rotate(22 635 354)"/>
<ellipse class="t" cx="641" cy="356" rx="56.16" ry="81.84" transform="rotate(22 641 356)"/>
<path class="k" d="M596.7 433.5 589.8 429 583.7 423.4 578.3 416.6 573.8 408.9 570.2 400.4 567.6 391.2 566 381.4 565.5 371.2 566.1 360.7 567.7 350.1 570.3 339.6 573.9 329.3 578.5 319.4 583.9 310 590.1 301.3 597 293.4 604.4 286.4 612.3 280.4 620.6 275.6 629.1 271.9 637.7 269.5 646.2 268.4 654.6 268.7 662.7 270.2"/>
<ellipse class="w" cx="800" cy="440" rx="64" ry="70" transform="rotate(22 800 440)"/>
<ellipse class="t" cx="804" cy="442" rx="54" ry="60" transform="rotate(22 804 442)"/>
<ellipse class="l" cx="806" cy="444" rx="26" ry="40" transform="rotate(22 806 444)"/>
<ellipse class="t" cx="808" cy="446" rx="16" ry="30" transform="rotate(22 808 446)"/>
<ellipse class="w" cx="1040" cy="580" rx="145" ry="170" transform="rotate(22 1040 580)"/>
<ellipse class="w" cx="1110" cy="590" rx="125" ry="150" transform="rotate(22 1110 590)"/>
<ellipse class="l" cx="1112" cy="592" rx="64" ry="80" transform="rotate(22 1112 592)"/>
<ellipse class="l" cx="1116" cy="596" rx="46" ry="62" transform="rotate(22 1116 596)"/>
<path class="t" d="M1080 560 1095 625"/>
<path class="t" d="M1094 564 1109 630"/>
<path class="t" d="M1108 568 1123 635"/>
<path class="t" d="M1122 572 1137 640"/>
<path class="t" d="M1136 576 1151 645"/>
<path class="l" d="M1208.4 636.2 1206.6 638.2 1204.6 639.7 1202.3 640.7 1199.9 641.2 1197.5 641.1 1195.1 640.4 1192.9 639.1 1191 637.4 1189.4 635.2 1188.2 632.7 1187.4 630 1187.2 627.2 1187.4 624.4 1188.2 621.7 1189.4 619.2 1191 617 1192.9 615.3 1195.1 614 1197.5 613.3 1199.9 613.2 1202.3 613.7 1204.6 614.7 1206.6 616.2 1208.4 618.2"/>
<path class="l" d="M1166.2 692.7 1164.4 694.7 1162.4 696.2 1160.1 697.2 1157.7 697.7 1155.3 697.6 1152.9 696.9 1150.7 695.6 1148.8 693.9 1147.2 691.7 1146 689.2 1145.2 686.5 1145 683.7 1145.2 680.9 1146 678.2 1147.2 675.7 1148.8 673.5 1150.7 671.8 1152.9 670.5 1155.3 669.8 1157.7 669.7 1160.1 670.2 1162.4 671.2 1164.4 672.7 1166.2 674.7"/>
<path class="l" d="M1106.8 714.2 1105 716.2 1103 717.7 1100.7 718.7 1098.3 719.2 1095.9 719.1 1093.5 718.4 1091.3 717.1 1089.4 715.4 1087.8 713.2 1086.6 710.7 1085.8 708 1085.6 705.2 1085.8 702.4 1086.6 699.7 1087.8 697.2 1089.4 695 1091.3 693.3 1093.5 692 1095.9 691.3 1098.3 691.2 1100.7 691.7 1103 692.7 1105 694.2 1106.8 696.2"/>
<path class="l" d="M1052.9 692.4 1051.1 694.4 1049.1 695.9 1046.8 696.9 1044.4 697.4 1042 697.3 1039.6 696.6 1037.4 695.3 1035.5 693.6 1033.9 691.4 1032.7 688.9 1031.9 686.2 1031.7 683.4 1031.9 680.6 1032.7 677.9 1033.9 675.4 1035.5 673.2 1037.4 671.5 1039.6 670.2 1042 669.5 1044.4 669.4 1046.8 669.9 1049.1 670.9 1051.1 672.4 1052.9 674.4"/>
<path class="l" d="M1025.1 635.7 1023.3 637.7 1021.3 639.2 1019 640.2 1016.6 640.7 1014.2 640.6 1011.8 639.9 1009.6 638.6 1007.7 636.9 1006.1 634.7 1004.9 632.2 1004.1 629.5 1003.9 626.7 1004.1 623.9 1004.9 621.2 1006.1 618.7 1007.7 616.5 1009.6 614.8 1011.8 613.5 1014.2 612.8 1016.6 612.7 1019 613.2 1021.3 614.2 1023.3 615.7 1025.1 617.7"/>
<path class="l" d="M1034 565.8 1032.2 567.8 1030.2 569.3 1027.9 570.3 1025.5 570.8 1023.1 570.7 1020.7 570 1018.5 568.7 1016.6 567 1015 564.8 1013.8 562.3 1013 559.6 1012.8 556.8 1013 554 1013.8 551.3 1015 548.8 1016.6 546.6 1018.5 544.9 1020.7 543.6 1023.1 542.9 1025.5 542.8 1027.9 543.3 1030.2 544.3 1032.2 545.8 1034 547.8"/>
<path class="l" d="M1076.2 509.3 1074.4 511.3 1072.4 512.8 1070.1 513.8 1067.7 514.3 1065.3 514.2 1062.9 513.5 1060.7 512.2 1058.8 510.5 1057.2 508.3 1056 505.8 1055.2 503.1 1055 500.3 1055.2 497.5 1056 494.8 1057.2 492.3 1058.8 490.1 1060.7 488.4 1062.9 487.1 1065.3 486.4 1067.7 486.3 1070.1 486.8 1072.4 487.8 1074.4 489.3 1076.2 491.3"/>
<path class="l" d="M1135.6 487.8 1133.8 489.8 1131.8 491.3 1129.5 492.3 1127.1 492.8 1124.7 492.7 1122.3 492 1120.1 490.7 1118.2 489 1116.6 486.8 1115.4 484.3 1114.6 481.6 1114.4 478.8 1114.6 476 1115.4 473.3 1116.6 470.8 1118.2 468.6 1120.1 466.9 1122.3 465.6 1124.7 464.9 1127.1 464.8 1129.5 465.3 1131.8 466.3 1133.8 467.8 1135.6 469.8"/>
<path class="l" d="M1189.5 509.6 1187.7 511.6 1185.7 513.1 1183.4 514.1 1181 514.6 1178.6 514.5 1176.2 513.8 1174 512.5 1172.1 510.8 1170.5 508.6 1169.3 506.1 1168.5 503.4 1168.3 500.6 1168.5 497.8 1169.3 495.1 1170.5 492.6 1172.1 490.4 1174 488.7 1176.2 487.4 1178.6 486.7 1181 486.6 1183.4 487.1 1185.7 488.1 1187.7 489.6 1189.5 491.6"/>
<path class="l" d="M1217.3 566.3 1215.5 568.3 1213.5 569.8 1211.2 570.8 1208.8 571.3 1206.4 571.2 1204 570.5 1201.8 569.2 1199.9 567.5 1198.3 565.3 1197.1 562.8 1196.3 560.1 1196.1 557.3 1196.3 554.5 1197.1 551.8 1198.3 549.3 1199.9 547.1 1201.8 545.4 1204 544.1 1206.4 543.4 1208.8 543.3 1211.2 543.8 1213.5 544.8 1215.5 546.3 1217.3 548.3"/>
<path class="l" d="M935 500 960 455 1010 440 1030 500 985 540 Z"/>
<path class="l" d="M945 495 975 535"/>
<path class="l" d="M959 486 989 526"/>
<path class="l" d="M973 477 1003 517"/>
<path class="l" d="M987 468 1017 508"/>
<path class="l" d="M1001 459 1031 499"/>
<path class="l" d="M1030 430 1090 415 1130 440 1080 470 Z"/>
<path class="l" d="M1045 432 1065 462"/>
<path class="l" d="M1059 430 1079 458"/>
<path class="l" d="M1073 428 1093 454"/>
<path class="l" d="M1087 426 1107 450"/>
<path class="l" d="M1101 424 1121 446"/>
<path class="l" d="M915 590 960 575 985 640 940 660 Z"/>
<path class="l" d="M925 595 945 650"/>
<path class="l" d="M938 592 958 647"/>
<path class="l" d="M951 589 971 644"/>
<path class="l" d="M964 586 984 641"/>
<ellipse class="w" cx="1165" cy="455" rx="14" ry="14"/>
<ellipse class="w" cx="1215" cy="495" rx="14" ry="14"/>
<ellipse class="w" cx="1238" cy="560" rx="14" ry="14"/>
<ellipse class="w" cx="1215" cy="655" rx="14" ry="14"/>
<ellipse class="w" cx="1170" cy="710" rx="14" ry="14"/>
<ellipse class="w" cx="1030" cy="735" rx="14" ry="14"/>
<ellipse class="w" cx="985" cy="700" rx="14" ry="14"/>
<path class="w" d="M1310 575 L1380 558 L1390 600 Q1450 640 1445 710 Q1435 800 1340 832 Q1270 840 1255 760 Q1250 660 1320 610 Z"/>
<ellipse class="l" cx="1345" cy="715" rx="48" ry="58" transform="rotate(22 1345 715)"/>
<path class="l" d="M1304.2 699 1302.4 701 1300.4 702.5 1298.1 703.5 1295.7 704 1293.3 703.9 1290.9 703.2 1288.7 701.9 1286.8 700.2 1285.2 698 1284 695.5 1283.2 692.8 1283 690 1283.2 687.2 1284 684.5 1285.2 682 1286.8 679.8 1288.7 678.1 1290.9 676.8 1293.3 676.1 1295.7 676 1298.1 676.5 1300.4 677.5 1302.4 679 1304.2 681"/>
<path class="l" d="M1394.2 659 1392.4 661 1390.4 662.5 1388.1 663.5 1385.7 664 1383.3 663.9 1380.9 663.2 1378.7 661.9 1376.8 660.2 1375.2 658 1374 655.5 1373.2 652.8 1373 650 1373.2 647.2 1374 644.5 1375.2 642 1376.8 639.8 1378.7 638.1 1380.9 636.8 1383.3 636.1 1385.7 636 1388.1 636.5 1390.4 637.5 1392.4 639 1394.2 641"/>
<path class="l" d="M1419.2 754 1417.4 756 1415.4 757.5 1413.1 758.5 1410.7 759 1408.3 758.9 1405.9 758.2 1403.7 756.9 1401.8 755.2 1400.2 753 1399 750.5 1398.2 747.8 1398 745 1398.2 742.2 1399 739.5 1400.2 737 1401.8 734.8 1403.7 733.1 1405.9 731.8 1408.3 731.1 1410.7 731 1413.1 731.5 1415.4 732.5 1417.4 734 1419.2 736"/>
<path class="l" d="M1354.2 804 1352.4 806 1350.4 807.5 1348.1 808.5 1345.7 809 1343.3 808.9 1340.9 808.2 1338.7 806.9 1336.8 805.2 1335.2 803 1334 800.5 1333.2 797.8 1333 795 1333.2 792.2 1334 789.5 1335.2 787 1336.8 784.8 1338.7 783.1 1340.9 781.8 1343.3 781.1 1345.7 781 1348.1 781.5 1350.4 782.5 1352.4 784 1354.2 786"/>
<path class="l" d="M1294.2 779 1292.4 781 1290.4 782.5 1288.1 783.5 1285.7 784 1283.3 783.9 1280.9 783.2 1278.7 781.9 1276.8 780.2 1275.2 778 1274 775.5 1273.2 772.8 1273 770 1273.2 767.2 1274 764.5 1275.2 762 1276.8 759.8 1278.7 758.1 1280.9 756.8 1283.3 756.1 1285.7 756 1288.1 756.5 1290.4 757.5 1292.4 759 1294.2 761"/>
</g>
<g transform="translate(796 824) scale(.25)">
<path class="fk" d="M721.314 378.802 783.133 365.662 776.846 336.083 715.027 349.223 Z"/>
<ellipse class="fk" cx="690" cy="370" rx="36" ry="37.8"/>
<ellipse class="wf" cx="674.88" cy="375.4" rx="7.2" ry="15.12" transform="rotate(-15 674.88 375.4)"/>
<ellipse class="wf" cx="694.32" cy="357.4" rx="10.08" ry="5.76" transform="rotate(30 694.32 357.4)"/>
<ellipse class="wf" cx="709.8" cy="373.6" rx="3.6" ry="16.2" transform="rotate(-20 709.8 373.6)"/>
<ellipse class="wf" cx="691.8" cy="384.4" rx="3.6" ry="7.2"/>
<ellipse class="w" cx="568" cy="680" rx="30" ry="38" transform="rotate(22 568 680)"/>
<ellipse class="fk" cx="570" cy="682" rx="16" ry="22" transform="rotate(22 570 682)"/>
<ellipse class="fk" cx="482" cy="705" rx="36" ry="36"/>
<ellipse class="w" cx="486" cy="708" rx="18" ry="18"/>
<path class="t" d="M492.9 712 492 713.3 490.9 714.3 489.5 715.2 488.1 715.7 486.5 716 485 715.9 483.4 715.6 482 714.9 480.7 714 479.7 712.9 478.8 711.5 478.3 710.1 478 708.5 478.1 707 478.4 705.4 479.1 704 480 702.7 481.1 701.7 482.5 700.8 483.9 700.3 485.5 700 487 700.1 488.6 700.4 490 701.1"/>
<path class="l" d="M900 565 925 550 960 565 975 600 970 660 945 672 925 650 915 600 Z"/>
<path class="l" d="M915 575 940 600 945 655"/>
<ellipse class="l" cx="935" cy="585" rx="10" ry="14"/>
<path class="k" d="M955 590 958 640"/>
<path class="l" d="M1170 370 1185 320 1240 302 1275 330 1330 320 1365 345 1360 400 1380 470 1345 500 1300 510 1290 535 1240 540 1215 500 1225 440 1190 430 Z"/>
<path class="l" d="M1240 302 1250 360 1230 440"/>
<path class="l" d="M1275 330 1290 400 1340 470"/>
<path class="t" d="M1250 360 1300 350 1330 320"/>
<path class="l" d="M1180 400 1215 380 1225 440"/>
<path class="k" d="M1240 420 1250 500"/>
<path class="l" d="M1270 420 1290 500"/>
<ellipse class="l" cx="1305" cy="470" rx="18" ry="30"/>
<path class="k" d="M1320 345 1335 380"/>
<path class="k" d="M1235 345 1250 375"/>
<path class="l" d="M1200 440 1215 500"/>
<ellipse class="w" cx="1457" cy="425" rx="30" ry="38" transform="rotate(22 1457 425)"/>
<ellipse class="l" cx="1457" cy="425" rx="22" ry="30" transform="rotate(22 1457 425)"/>
<ellipse class="l" cx="1459" cy="427" rx="8" ry="14" transform="rotate(22 1459 427)"/>
</g>
<g transform="translate(1194 824) scale(.25)">
<path class="l" d="M990 265 1010 255 1050 285 1030 300 1050 335 1020 320 995 325 988 290 Z"/>
<path class="l" d="M1005 275 1030 300"/>
<path class="w" d="M660 350 700 342 720 365 718 400 680 410 655 395 Z"/>
<ellipse class="l" cx="668" cy="378" rx="18" ry="28"/>
<rect class="fk" x="742" y="417" width="56.7274" height="16" rx="8" transform="rotate(40.7108 742 425)"/>
<path class="l" d="M405 440 425 430 440 445 445 480 470 500 520 515 540 540 535 580 510 590 520 620 500 630 480 590 440 600 415 590 420 560 405 540 415 500 Z"/>
<ellipse class="fk" cx="425" cy="440" rx="12" ry="12"/>
<ellipse class="l" cx="515" cy="612" rx="12" ry="16"/>
<path class="k" d="M430 555 480 545 490 585"/>
<path class="k" d="M440 570 470 565"/>
<ellipse class="l" cx="510" cy="550" rx="22" ry="28"/>
<ellipse class="fk" cx="690" cy="522" rx="26" ry="20" transform="rotate(30 690 522)"/>
<ellipse class="w" cx="694" cy="524" rx="12" ry="9" transform="rotate(30 694 524)"/>
<rect class="l" x="700" y="524" width="63.9062" height="12" rx="6" transform="rotate(20.1363 700 530)"/>
<ellipse class="l" cx="770" cy="552" rx="22" ry="14" transform="rotate(-20 770 552)"/>
<rect class="w" x="262" y="689" width="166.928" height="22" rx="11" transform="rotate(-12.4543 262 700)"/>
<path class="k" d="M270 700 330 686"/>
<path class="l" d="M395 660 405 682"/>
</g>
<!-- 30_small2.svg -->
<g transform="translate(1194 275) scale(.25)">
<rect class="fk" x="1068" y="655" width="105.679" height="26" rx="13" transform="rotate(29.4759 1068 668)"/>
<rect class="w" x="1140" y="697" width="70.4911" height="22" rx="11" transform="rotate(31.6608 1140 708)"/>
<ellipse class="w" cx="1205" cy="750" rx="30" ry="28"/>
<ellipse class="l" cx="1208" cy="752" rx="16" ry="15"/>
<rect class="w" x="880" y="87" width="59.0593" height="26" rx="13" transform="rotate(28.3008 880 100)"/>
</g>
<g transform="translate(796 275) scale(.25)">
<rect class="w" x="1322" y="422" width="53.3385" height="26" rx="13" transform="rotate(30.4111 1322 435)"/>
</g>
<g transform="translate(1194 0) scale(.25)">
<path class="w" d="M735 908 770 908 768 925 756 950 748 950 738 925 Z"/>
<path class="t" d="M738 920 768 920"/>
</g>
<!-- 90_labels.svg -->
<g id="labelbg">
<rect fill="#fff" x="92.5" y="58.5" width="72.0" height="18.5"/>
<rect fill="#fff" x="748.5" y="135.0" width="72.0" height="18.5"/>
<rect fill="#fff" x="846.5" y="172.5" width="60.0" height="18.5"/>
<rect fill="#fff" x="1016.5" y="227.5" width="70.0" height="18.5"/>
<rect fill="#fff" x="497.5" y="521.5" width="71.5" height="18.5"/>
<rect fill="#fff" x="863.5" y="402.0" width="70.5" height="18.5"/>
<rect fill="#fff" x="868.0" y="427.5" width="69.5" height="18.5"/>
<rect fill="#fff" x="908.5" y="448.0" width="69.0" height="18.5"/>
<rect fill="#fff" x="786.5" y="465.0" width="71.0" height="18.5"/>
<rect fill="#fff" x="844.5" y="488.5" width="69.5" height="18.5"/>
<rect fill="#fff" x="821.5" y="538.5" width="70.0" height="18.5"/>
<rect fill="#fff" x="29.0" y="574.5" width="59.5" height="18.5"/>
<rect fill="#fff" x="362.0" y="591.5" width="71.5" height="18.5"/>
<rect fill="#fff" x="197.0" y="782.0" width="71.5" height="18.5"/>
<rect fill="#fff" x="620.0" y="561.5" width="71.5" height="18.5"/>
<rect fill="#fff" x="930.5" y="618.5" width="70.5" height="18.5"/>
<rect fill="#fff" x="999.5" y="657.5" width="69.0" height="18.5"/>
<rect fill="#fff" x="811.0" y="620.0" width="70.0" height="18.5"/>
<rect fill="#fff" x="1093.0" y="733.5" width="71.0" height="18.5"/>
<rect fill="#fff" x="1108.0" y="805.0" width="69.5" height="18.5"/>
<rect fill="#fff" x="1375.5" y="551.5" width="56.5" height="18.5"/>
<rect fill="#fff" x="1419.5" y="579.5" width="71.0" height="18.5"/>
<rect fill="#fff" x="1447.5" y="605.5" width="71.0" height="18.5"/>
<rect fill="#fff" x="1314.5" y="604.5" width="34.5" height="18.5"/>
<rect fill="#fff" x="1225.5" y="686.5" width="71.5" height="18.5"/>
<rect fill="#fff" x="1478.5" y="703.0" width="71.0" height="18.5"/>
<rect fill="#fff" x="1351.0" y="750.0" width="71.0" height="18.5"/>
<rect fill="#fff" x="1290.5" y="796.5" width="71.0" height="18.5"/>
<rect fill="#fff" x="1378.0" y="823.5" width="71.5" height="18.5"/>
<rect fill="#fff" x="1496.0" y="842.5" width="70.5" height="18.5"/>
<rect fill="#fff" x="1478.0" y="889.0" width="71.0" height="18.5"/>
<rect fill="#fff" x="1447.5" y="935.5" width="70.0" height="18.5"/>
<rect fill="#fff" x="18.5" y="877.5" width="71.0" height="18.5"/>
<rect fill="#fff" x="181.5" y="856.0" width="70.0" height="18.5"/>
<rect fill="#fff" x="117.5" y="930.5" width="72.0" height="18.5"/>
<rect fill="#fff" x="285.5" y="932.5" width="58.0" height="18.5"/>
<rect fill="#fff" x="599.5" y="873.5" width="70.0" height="18.5"/>
<rect fill="#fff" x="770.0" y="1059.0" width="59.0" height="18.5"/>
<rect fill="#fff" x="773.5" y="994.0" width="72.0" height="18.5"/>
<rect fill="#fff" x="999.5" y="1005.5" width="70.0" height="18.5"/>
<rect fill="#fff" x="1131.5" y="885.5" width="72.0" height="18.5"/>
<rect fill="#fff" x="793.0" y="15.0" width="154.5" height="18.0"/>
<rect fill="#fff" x="1324.5" y="190.0" width="114.0" height="16.0"/>
<rect fill="#fff" x="1229.5" y="239.0" width="112.5" height="16.0"/>
<rect fill="#fff" x="1362.5" y="253.0" width="113.0" height="16.0"/>
<rect fill="#fff" x="477.0" y="305.0" width="113.5" height="16.0"/>
<rect fill="#fff" x="437.5" y="421.0" width="113.5" height="16.0"/>
<rect fill="#fff" x="447.5" y="476.0" width="113.5" height="16.0"/>
<rect fill="#fff" x="847.5" y="300.0" width="113.5" height="16.0"/>
<rect fill="#fff" x="1005.0" y="334.0" width="112.5" height="16.0"/>
<rect fill="#fff" x="723.5" y="438.0" width="143.5" height="18.0"/>
<rect fill="#fff" x="235.5" y="594.0" width="113.0" height="16.0"/>
<rect fill="#fff" x="226.5" y="617.0" width="114.0" height="16.0"/>
<rect fill="#fff" x="208.5" y="647.0" width="143.0" height="18.0"/>
<rect fill="#fff" x="39.5" y="706.0" width="143.5" height="18.0"/>
<rect fill="#fff" x="890.0" y="594.0" width="112.5" height="16.0"/>
<rect fill="#fff" x="944.5" y="711.0" width="113.0" height="16.0"/>
<rect fill="#fff" x="877.5" y="944.0" width="113.5" height="16.0"/>
<rect fill="#fff" x="857.5" y="1019.0" width="114.0" height="16.0"/>
<rect fill="#fff" x="641.5" y="478.5" width="88.0" height="15.0"/>
<rect fill="#fff" x="641.5" y="500.5" width="98.0" height="15.0"/>
<rect fill="#fff" x="914.5" y="849.5" width="88.0" height="15.0"/>
<rect fill="#fff" x="914.5" y="871.0" width="97.5" height="15.0"/>
<rect fill="#fff" x="1091.0" y="974.0" width="87.5" height="15.0"/>
<rect fill="#fff" x="1091.0" y="995.5" width="96.5" height="15.0"/>
<rect fill="#fff" x="1091.0" y="1017.0" width="128.5" height="17.0"/>
<rect fill="#fff" x="851.5" y="194.0" width="53.0" height="17.0"/>
<rect fill="#fff" x="30.5" y="599.0" width="59.0" height="17.0"/>
<rect fill="#fff" x="931.5" y="642.0" width="53.0" height="17.0"/>
<rect fill="#fff" x="1092.5" y="754.5" width="52.0" height="17.0"/>
<rect fill="#fff" x="30.5" y="254.0" width="28.0" height="16.5"/>
<rect fill="#fff" x="270.5" y="236.0" width="26.0" height="16.5"/>
<rect fill="#fff" x="296.5" y="252.0" width="26.0" height="16.5"/>
<rect fill="#fff" x="331.5" y="269.0" width="26.0" height="16.5"/>
<rect fill="#fff" x="355.5" y="285.0" width="26.0" height="16.5"/>
<rect fill="#fff" x="345.5" y="317.0" width="26.0" height="16.5"/>
<rect fill="#fff" x="371.5" y="333.0" width="26.0" height="16.5"/>
<rect fill="#fff" x="22.0" y="368.0" width="26.5" height="16.5"/>
<rect fill="#fff" x="31.5" y="805.5" width="27.0" height="16.5"/>
<rect fill="#fff" x="1480.5" y="421.5" width="28.0" height="16.5"/>
<rect fill="#fff" x="1491.0" y="494.5" width="27.5" height="16.5"/>
<rect fill="#fff" x="710.0" y="136.5" width="32.5" height="16.5"/>
<rect fill="#fff" x="1178.0" y="134.5" width="27.5" height="16.5"/>
<rect fill="#fff" x="588.0" y="739.5" width="28.0" height="16.5"/>
<rect fill="#fff" x="485.5" y="768.5" width="28.5" height="16.5"/>
<rect fill="#fff" x="774.5" y="622.0" width="28.0" height="16.5"/>
</g>
<g id="labels">
<text class="pn" x="93.0" y="76.0" textLength="71.0" lengthAdjust="spacingAndGlyphs">30900N</text>
<text class="pn" x="749.0" y="152.5" textLength="71.0" lengthAdjust="spacingAndGlyphs">41310G</text>
<text class="pn" x="847.0" y="190.0" textLength="59.0" lengthAdjust="spacingAndGlyphs">G1142</text>
<text class="pn" x="1017.0" y="245.0" textLength="69.0" lengthAdjust="spacingAndGlyphs">35705B</text>
<text class="pn" x="498.0" y="539.0" textLength="70.5" lengthAdjust="spacingAndGlyphs">G2100A</text>
<text class="pn" x="864.0" y="419.5" textLength="69.5" lengthAdjust="spacingAndGlyphs">35409C</text>
<text class="pn" x="868.5" y="445.0" textLength="68.5" lengthAdjust="spacingAndGlyphs">35556J</text>
<text class="pn" x="909.0" y="465.5" textLength="68.0" lengthAdjust="spacingAndGlyphs">35557B</text>
<text class="pn" x="787.0" y="482.5" textLength="70.0" lengthAdjust="spacingAndGlyphs">35596B</text>
<text class="pn" x="845.0" y="506.0" textLength="68.5" lengthAdjust="spacingAndGlyphs">35556J</text>
<text class="pn" x="822.0" y="556.0" textLength="69.0" lengthAdjust="spacingAndGlyphs">35556M</text>
<text class="pn" x="29.5" y="592.0" textLength="58.5" lengthAdjust="spacingAndGlyphs">G1142</text>
<text class="pn" x="362.5" y="609.0" textLength="70.5" lengthAdjust="spacingAndGlyphs">G1020A</text>
<text class="pn" x="197.5" y="799.5" textLength="70.5" lengthAdjust="spacingAndGlyphs">G2100C</text>
<text class="pn" x="620.5" y="579.0" textLength="70.5" lengthAdjust="spacingAndGlyphs">35152A</text>
<text class="pn" x="931.0" y="636.0" textLength="69.5" lengthAdjust="spacingAndGlyphs">35395D</text>
<text class="pn" x="1000.0" y="675.0" textLength="68.0" lengthAdjust="spacingAndGlyphs">35395E</text>
<text class="pn" x="811.5" y="637.5" textLength="69.0" lengthAdjust="spacingAndGlyphs">35598A</text>
<text class="pn" x="1093.5" y="751.0" textLength="70.0" lengthAdjust="spacingAndGlyphs">35395D</text>
<text class="pn" x="1108.5" y="822.5" textLength="68.5" lengthAdjust="spacingAndGlyphs">35395E</text>
<text class="pn" x="1376.0" y="569.0" textLength="55.5" lengthAdjust="spacingAndGlyphs">35371</text>
<text class="pn" x="1420.0" y="597.0" textLength="70.0" lengthAdjust="spacingAndGlyphs">35351B</text>
<text class="pn" x="1448.0" y="623.0" textLength="70.0" lengthAdjust="spacingAndGlyphs">35352A</text>
<text class="pn" x="1315.0" y="622.0" textLength="33.5" lengthAdjust="spacingAndGlyphs">N04</text>
<text class="pn" x="1226.0" y="704.0" textLength="70.5" lengthAdjust="spacingAndGlyphs">33449F</text>
<text class="pn" x="1479.0" y="720.5" textLength="70.0" lengthAdjust="spacingAndGlyphs">35308D</text>
<text class="pn" x="1351.5" y="767.5" textLength="70.0" lengthAdjust="spacingAndGlyphs">35308F</text>
<text class="pn" x="1291.0" y="814.0" textLength="70.0" lengthAdjust="spacingAndGlyphs">35308H</text>
<text class="pn" x="1378.5" y="841.0" textLength="70.5" lengthAdjust="spacingAndGlyphs">35308G</text>
<text class="pn" x="1496.5" y="860.0" textLength="69.5" lengthAdjust="spacingAndGlyphs">35308E</text>
<text class="pn" x="1478.5" y="906.5" textLength="70.0" lengthAdjust="spacingAndGlyphs">35556K</text>
<text class="pn" x="1448.0" y="953.0" textLength="69.0" lengthAdjust="spacingAndGlyphs">35505K</text>
<text class="pn" x="19.0" y="895.0" textLength="70.0" lengthAdjust="spacingAndGlyphs">35719D</text>
<text class="pn" x="182.0" y="873.5" textLength="69.0" lengthAdjust="spacingAndGlyphs">35786D</text>
<text class="pn" x="118.0" y="948.0" textLength="71.0" lengthAdjust="spacingAndGlyphs">35719C</text>
<text class="pn" x="286.0" y="950.0" textLength="57.0" lengthAdjust="spacingAndGlyphs">35710</text>
<text class="pn" x="600.0" y="891.0" textLength="69.0" lengthAdjust="spacingAndGlyphs">35760A</text>
<text class="pn" x="770.5" y="1076.5" textLength="58.0" lengthAdjust="spacingAndGlyphs">30900</text>
<text class="pn" x="774.0" y="1011.5" textLength="71.0" lengthAdjust="spacingAndGlyphs">35753A</text>
<text class="pn" x="1000.0" y="1023.0" textLength="69.0" lengthAdjust="spacingAndGlyphs">35572B</text>
<text class="pn" x="1132.0" y="903.0" textLength="71.0" lengthAdjust="spacingAndGlyphs">35561A</text>
<text class="no" x="793.5" y="30.0" textLength="153.5" lengthAdjust="spacingAndGlyphs">91551-80618(12)</text>
<text class="no" x="1325.0" y="205.0" textLength="113.0" lengthAdjust="spacingAndGlyphs">90341-10022</text>
<text class="no" x="1230.0" y="254.0" textLength="111.5" lengthAdjust="spacingAndGlyphs">90179-32002</text>
<text class="no" x="1363.0" y="268.0" textLength="112.0" lengthAdjust="spacingAndGlyphs">90250-10017</text>
<text class="no" x="477.5" y="320.0" textLength="112.5" lengthAdjust="spacingAndGlyphs">90467-06202</text>
<text class="no" x="438.0" y="436.0" textLength="112.5" lengthAdjust="spacingAndGlyphs">91671-80822</text>
<text class="no" x="448.0" y="491.0" textLength="112.5" lengthAdjust="spacingAndGlyphs">91671-80822</text>
<text class="no" x="848.0" y="315.0" textLength="112.5" lengthAdjust="spacingAndGlyphs">90105-08376</text>
<text class="no" x="1005.5" y="349.0" textLength="111.5" lengthAdjust="spacingAndGlyphs">90250-10017</text>
<text class="no" x="724.0" y="453.0" textLength="142.5" lengthAdjust="spacingAndGlyphs">90105-08376(2)</text>
<text class="no" x="236.0" y="609.0" textLength="112.0" lengthAdjust="spacingAndGlyphs">90341-18016</text>
<text class="no" x="227.0" y="632.0" textLength="113.0" lengthAdjust="spacingAndGlyphs">90430-18008</text>
<text class="no" x="209.0" y="662.0" textLength="142.0" lengthAdjust="spacingAndGlyphs">91551-80614(5)</text>
<text class="no" x="40.0" y="721.0" textLength="142.5" lengthAdjust="spacingAndGlyphs">91551-80618(8)</text>
<text class="no" x="890.5" y="609.0" textLength="111.5" lengthAdjust="spacingAndGlyphs">91551-80614</text>
<text class="no" x="945.0" y="726.0" textLength="112.0" lengthAdjust="spacingAndGlyphs">91551-80614</text>
<text class="no" x="878.0" y="959.0" textLength="112.5" lengthAdjust="spacingAndGlyphs">94512-00800</text>
<text class="no" x="858.0" y="1034.0" textLength="113.0" lengthAdjust="spacingAndGlyphs">94130-00802</text>
<text class="rf" x="642.0" y="492.5" textLength="87.0" lengthAdjust="spacingAndGlyphs">REFER TO</text>
<text class="rf" x="642.0" y="514.5" textLength="97.0" lengthAdjust="spacingAndGlyphs">FIG 82-02</text>
<text class="rf" x="915.0" y="863.5" textLength="87.0" lengthAdjust="spacingAndGlyphs">REFER TO</text>
<text class="rf" x="915.0" y="885.0" textLength="96.5" lengthAdjust="spacingAndGlyphs">FIG 84-10</text>
<text class="rf" x="1091.5" y="988.0" textLength="86.5" lengthAdjust="spacingAndGlyphs">REFER TO</text>
<text class="rf" x="1091.5" y="1009.5" textLength="95.5" lengthAdjust="spacingAndGlyphs">FIG 84-01</text>
<text class="rf" x="1091.5" y="1031.0" textLength="127.5" lengthAdjust="spacingAndGlyphs">(PNC 89451A)</text>
<text class="sm" x="852.0" y="208.0" textLength="52.0" lengthAdjust="spacingAndGlyphs">(NO.2)</text>
<text class="sm" x="31.0" y="613.0" textLength="58.0" lengthAdjust="spacingAndGlyphs">(NO.1)</text>
<text class="sm" x="932.0" y="656.0" textLength="52.0" lengthAdjust="spacingAndGlyphs">(NO.1)</text>
<text class="sm" x="1093.0" y="768.5" textLength="51.0" lengthAdjust="spacingAndGlyphs">(NO.2)</text>
<text class="st" x="31.0" y="269.5" textLength="27.0" lengthAdjust="spacingAndGlyphs">※1</text>
<text class="st" x="271.0" y="251.5" textLength="25.0" lengthAdjust="spacingAndGlyphs">※1</text>
<text class="st" x="297.0" y="267.5" textLength="25.0" lengthAdjust="spacingAndGlyphs">※1</text>
<text class="st" x="332.0" y="284.5" textLength="25.0" lengthAdjust="spacingAndGlyphs">※1</text>
<text class="st" x="356.0" y="300.5" textLength="25.0" lengthAdjust="spacingAndGlyphs">※1</text>
<text class="st" x="346.0" y="332.5" textLength="25.0" lengthAdjust="spacingAndGlyphs">※1</text>
<text class="st" x="372.0" y="348.5" textLength="25.0" lengthAdjust="spacingAndGlyphs">※1</text>
<text class="st" x="22.5" y="383.5" textLength="25.5" lengthAdjust="spacingAndGlyphs">※1</text>
<text class="st" x="32.0" y="821.0" textLength="26.0" lengthAdjust="spacingAndGlyphs">※1</text>
<text class="st" x="1481.0" y="437.0" textLength="27.0" lengthAdjust="spacingAndGlyphs">※2</text>
<text class="st" x="1491.5" y="510.0" textLength="26.5" lengthAdjust="spacingAndGlyphs">※2</text>
<text class="st" x="710.5" y="152.0" textLength="31.5" lengthAdjust="spacingAndGlyphs">※3</text>
<text class="st" x="1178.5" y="150.0" textLength="26.5" lengthAdjust="spacingAndGlyphs">※3</text>
<text class="st" x="588.5" y="755.0" textLength="27.0" lengthAdjust="spacingAndGlyphs">※3</text>
<text class="st" x="486.0" y="784.0" textLength="27.5" lengthAdjust="spacingAndGlyphs">※3</text>
<text class="st" x="775.0" y="637.5" textLength="27.0" lengthAdjust="spacingAndGlyphs">※4</text>
<ellipse class="f" cx="1315.0" cy="199.0" rx="8.3" ry="8.6"/>
<ellipse class="f" cx="465.5" cy="313.0" rx="8.3" ry="8.6"/>
<ellipse class="f" cx="995.0" cy="342.0" rx="8.3" ry="8.6"/>
<ellipse class="f" cx="225.0" cy="602.5" rx="8.3" ry="8.6"/>
<ellipse class="f" cx="988.5" cy="667.0" rx="8.3" ry="8.6"/>
<ellipse class="f" cx="1098.0" cy="814.5" rx="8.3" ry="8.6"/>
<ellipse class="f" cx="1338.0" cy="759.0" rx="8.3" ry="8.6"/>
<ellipse class="f" cx="1366.5" cy="834.0" rx="8.3" ry="8.6"/>
<ellipse class="f" cx="390.0" cy="1060.5" rx="7.0" ry="7.3"/>
<ellipse class="f" cx="390.0" cy="1087.0" rx="7.0" ry="7.3"/>
<text class="ft" x="10.0" y="1064.5" textLength="340.0" lengthAdjust="spacingAndGlyphs">※1～※2 REFER TO ILLUST NO.3 OF 4</text>
<text class="ft" x="10.0" y="1084.5" textLength="90.0" lengthAdjust="spacingAndGlyphs">※4 (1011-</text>
<text class="ft" x="140.0" y="1084.5" textLength="5.0" lengthAdjust="spacingAndGlyphs">)</text>
<text class="ftj" x="409.0" y="1068.5" textLength="135.0" lengthAdjust="spacingAndGlyphs">再使用不可部品</text>
<text class="ft" x="409.0" y="1095.0" textLength="161.0" lengthAdjust="spacingAndGlyphs">Non-reusable part</text>
<text class="ft" x="1101.5" y="1070.0" textLength="34.5" lengthAdjust="spacingAndGlyphs">N04</text>
<text class="ftj" x="1150.0" y="1070.0" textLength="331.5" lengthAdjust="spacingAndGlyphs">この部品については補給していません</text>
<text class="ft" x="1101.5" y="1091.5" textLength="34.5" lengthAdjust="spacingAndGlyphs">N04</text>
<text class="ft" x="1146.0" y="1091.5" textLength="310.5" lengthAdjust="spacingAndGlyphs">This part is not available for service</text>
<text class="ft" x="1499.0" y="1090.0" textLength="74.0" lengthAdjust="spacingAndGlyphs">390295J</text>
</g>
</svg>
</body></html>
